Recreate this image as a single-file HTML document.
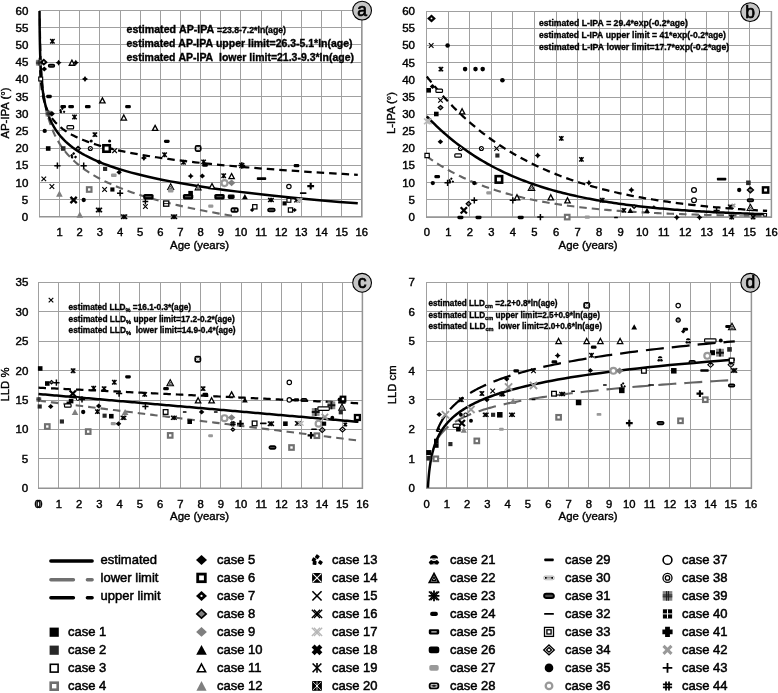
<!DOCTYPE html>
<html lang="en"><head><meta charset="utf-8"><title>Figure</title>
<style>html,body{margin:0;padding:0;background:#fff}svg{display:block}</style>
</head><body>
<svg width="778" height="693" viewBox="0 0 778 693" font-family='"Liberation Sans", sans-serif'>
<rect width="778" height="693" fill="#fff"/>
<path d="M39.5 10V217M59.5 10V217M79.5 10V217M99.5 10V217M120.5 10V217M140.5 10V217M160.5 10V217M180.5 10V217M200.5 10V217M220.5 10V217M240.5 10V217M261.5 10V217M281.5 10V217M301.5 10V217M321.5 10V217M341.5 10V217M361.5 10V217M39 216.5H362M39 199.5H362M39 182.5H362M39 165.5H362M39 148.5H362M39 130.5H362M39 113.5H362M39 96.5H362M39 79.5H362M39 62.5H362M39 44.5H362M39 27.5H362M39 10.5H362" stroke="#a0a0a0" stroke-width="1" fill="none"/>
<path d="M39 216.85H362.65M361.9 10V217.6" stroke="#949494" stroke-width="1.5" fill="none"/>
<path d="M426.5 11V218M448.5 11V218M469.5 11V218M491.5 11V218M512.5 11V218M534.5 11V218M556.5 11V218M577.5 11V218M599.5 11V218M620.5 11V218M642.5 11V218M663.5 11V218M685.5 11V218M706.5 11V218M728.5 11V218M749.5 11V218M771.5 11V218M426 217.5H772M426 199.5H772M426 182.5H772M426 165.5H772M426 148.5H772M426 131.5H772M426 114.5H772M426 97.5H772M426 79.5H772M426 62.5H772M426 45.5H772M426 28.5H772M426 11.5H772" stroke="#a0a0a0" stroke-width="1" fill="none"/>
<path d="M426 217.1H772.15M771.4 11V217.85" stroke="#949494" stroke-width="1.5" fill="none"/>
<path d="M38.5 282V489M58.5 282V489M79.5 282V489M99.5 282V489M119.5 282V489M139.5 282V489M160.5 282V489M180.5 282V489M200.5 282V489M220.5 282V489M241.5 282V489M261.5 282V489M281.5 282V489M301.5 282V489M322.5 282V489M342.5 282V489M362.5 282V489M38 488.5H363M38 458.5H363M38 429.5H363M38 400.5H363M38 370.5H363M38 341.5H363M38 311.5H363M38 282.5H363" stroke="#a0a0a0" stroke-width="1" fill="none"/>
<path d="M38 488.2H363.15M362.4 282V488.95" stroke="#949494" stroke-width="1.5" fill="none"/>
<path d="M426.5 282V489M446.5 282V489M467.5 282V489M487.5 282V489M507.5 282V489M527.5 282V489M548.5 282V489M568.5 282V489M588.5 282V489M609.5 282V489M629.5 282V489M649.5 282V489M669.5 282V489M690.5 282V489M710.5 282V489M730.5 282V489M751.5 282V489M426 488.5H752M426 458.5H752M426 429.5H752M426 399.5H752M426 370.5H752M426 341.5H752M426 311.5H752M426 282.5H752" stroke="#a0a0a0" stroke-width="1" fill="none"/>
<path d="M426 488H752.15M751.4 282V488.75" stroke="#949494" stroke-width="1.5" fill="none"/>
<clipPath id="ca"><rect x="38" y="10.9" width="330" height="206"/></clipPath><g clip-path="url(#ca)">
<path d="M39.8 18.47L39.82 19.89L39.84 21.3L39.86 22.71L39.88 24.13L39.9 25.54L39.93 26.96L39.95 28.37L39.97 29.78L40 31.2L40.03 32.61L40.06 34.03L40.09 35.44L40.12 36.85L40.15 38.27L40.18 39.68L40.22 41.1L40.25 42.51L40.29 43.92L40.33 45.34L40.38 46.75L40.42 48.17L40.47 49.58L40.51 50.99L40.56 52.41L40.62 53.82L40.67 55.24L40.73 56.65L40.79 58.06L40.85 59.48L40.92 60.89L40.99 62.31L41.06 63.72L41.13 65.13L41.21 66.55L41.29 67.96L41.38 69.38L41.47 70.79L41.56 72.2L41.66 73.62L41.76 75.03L41.87 76.45L41.98 77.86L42.1 79.27L42.22 80.69L42.35 82.1L42.48 83.52L42.62 84.93L42.76 86.34L42.92 87.76L43.08 89.17L43.24 90.59L43.42 92L43.6 93.41L43.79 94.83L43.98 96.24L44.19 97.66L44.41 99.07L44.63 100.48L44.87 101.9L45.12 103.31L45.38 104.73L45.65 106.14L45.93 107.55L46.22 108.97L46.53 110.38L46.86 111.8L47.19 113.21L47.55 114.62L47.91 116.04L48.3 117.45L48.7 118.87L49.12 120.28L49.56 121.69L50.02 123.11L50.5 124.52L51 125.94L51.53 127.35L52.07 128.76L52.65 130.18L53.24 131.59L53.87 133.01L54.52 134.42L55.21 135.83L55.92 137.25L56.67 138.66L57.45 140.08L58.27 141.49L59.12 142.9L60.01 144.32L60.94 145.73L61.92 147.15L62.93 148.56L64 149.97L65.11 151.39L66.27 152.8L67.49 154.22L68.76 155.63L70.08 157.04L71.47 158.46L72.92 159.87L74.43 161.29L76.02 162.7L77.67 164.11L79.4 165.53L81.21 166.94L83.1 168.36L85.08 169.77L87.14 171.18L89.3 172.6L91.55 174.01L93.91 175.43L96.38 176.84L98.95 178.25L101.64 179.67L104.46 181.08L107.4 182.5L110.47 183.91L113.68 185.32L117.04 186.74L120.55 188.15L124.22 189.57L128.05 190.98L132.06 192.39L136.25 193.81L140.62 195.22L145.2 196.64L149.98 198.05L154.98 199.46L160.2 200.88L165.66 202.29L171.37 203.71L177.34 205.12L183.57 206.53L190.09 207.95L196.9 209.36L204.02 210.78L211.46 212.19L219.24 213.6L227.37 215.02L235.86 216.43" stroke="#646464" stroke-width="2.1" fill="none" stroke-dasharray="7.5 5" stroke-linecap="butt" stroke-linejoin="round"/>
<path d="M39.8 57.78L39.82 58.62L39.84 59.46L39.86 60.29L39.89 61.13L39.91 61.96L39.94 62.8L39.96 63.64L39.99 64.47L40.02 65.31L40.05 66.14L40.08 66.98L40.11 67.81L40.15 68.65L40.19 69.49L40.22 70.32L40.26 71.16L40.31 71.99L40.35 72.83L40.4 73.67L40.45 74.5L40.5 75.34L40.55 76.17L40.61 77.01L40.66 77.85L40.73 78.68L40.79 79.52L40.86 80.35L40.93 81.19L41.01 82.03L41.08 82.86L41.17 83.7L41.25 84.53L41.34 85.37L41.44 86.2L41.54 87.04L41.64 87.88L41.75 88.71L41.86 89.55L41.99 90.38L42.11 91.22L42.24 92.06L42.38 92.89L42.53 93.73L42.68 94.56L42.84 95.4L43.01 96.24L43.19 97.07L43.37 97.91L43.56 98.74L43.77 99.58L43.98 100.41L44.2 101.25L44.44 102.09L44.68 102.92L44.94 103.76L45.21 104.59L45.5 105.43L45.79 106.27L46.11 107.1L46.43 107.94L46.78 108.77L47.14 109.61L47.51 110.45L47.91 111.28L48.33 112.12L48.76 112.95L49.22 113.79L49.7 114.63L50.2 115.46L50.73 116.3L51.28 117.13L51.86 117.97L52.47 118.8L53.11 119.64L53.77 120.48L54.48 121.31L55.21 122.15L55.98 122.98L56.79 123.82L57.64 124.66L58.53 125.49L59.47 126.33L60.45 127.16L61.47 128L62.55 128.84L63.68 129.67L64.87 130.51L66.11 131.34L67.41 132.18L68.78 133.01L70.22 133.85L71.72 134.69L73.3 135.52L74.95 136.36L76.69 137.19L78.51 138.03L80.42 138.87L82.42 139.7L84.52 140.54L86.72 141.37L89.03 142.21L91.45 143.05L93.99 143.88L96.66 144.72L99.45 145.55L102.38 146.39L105.46 147.23L108.68 148.06L112.06 148.9L115.61 149.73L119.33 150.57L123.23 151.4L127.32 152.24L131.61 153.08L136.12 153.91L140.84 154.75L145.79 155.58L150.98 156.42L156.43 157.26L162.14 158.09L168.13 158.93L174.41 159.76L181 160.6L187.92 161.44L195.17 162.27L202.77 163.11L210.74 163.94L219.11 164.78L227.88 165.61L237.08 166.45L246.73 167.29L256.85 168.12L267.46 168.96L278.59 169.79L290.27 170.63L302.51 171.47L315.36 172.3L328.83 173.14L342.95 173.97L357.77 174.81" stroke="#000" stroke-width="2.25" fill="none" stroke-dasharray="7.5 5" stroke-linecap="butt" stroke-linejoin="round"/>
<path d="M39.48 -1.72L39.49 -0.26L39.49 1.2L39.5 2.67L39.5 4.13L39.51 5.6L39.51 7.06L39.52 8.53L39.53 9.99L39.54 11.46L39.55 12.92L39.55 14.39L39.56 15.85L39.57 17.32L39.58 18.78L39.6 20.25L39.61 21.71L39.62 23.18L39.63 24.64L39.65 26.11L39.66 27.57L39.68 29.04L39.7 30.5L39.71 31.96L39.73 33.43L39.75 34.89L39.78 36.36L39.8 37.82L39.82 39.29L39.85 40.75L39.88 42.22L39.9 43.68L39.94 45.15L39.97 46.61L40 48.08L40.04 49.54L40.08 51.01L40.12 52.47L40.16 53.94L40.21 55.4L40.26 56.87L40.31 58.33L40.37 59.8L40.43 61.26L40.49 62.72L40.55 64.19L40.62 65.65L40.7 67.12L40.78 68.58L40.86 70.05L40.95 71.51L41.05 72.98L41.15 74.44L41.25 75.91L41.37 77.37L41.49 78.84L41.61 80.3L41.75 81.77L41.89 83.23L42.04 84.7L42.2 86.16L42.37 87.63L42.56 89.09L42.75 90.56L42.95 92.02L43.17 93.48L43.4 94.95L43.64 96.41L43.9 97.88L44.17 99.34L44.47 100.81L44.77 102.27L45.1 103.74L45.45 105.2L45.82 106.67L46.21 108.13L46.62 109.6L47.06 111.06L47.53 112.53L48.03 113.99L48.55 115.46L49.11 116.92L49.7 118.39L50.33 119.85L51 121.31L51.7 122.78L52.45 124.24L53.25 125.71L54.09 127.17L54.99 128.64L55.94 130.1L56.94 131.57L58.01 133.03L59.15 134.5L60.35 135.96L61.63 137.43L62.98 138.89L64.42 140.36L65.94 141.82L67.56 143.29L69.28 144.75L71.1 146.22L73.03 147.68L75.08 149.15L77.25 150.61L79.56 152.07L82.01 153.54L84.6 155L87.36 156.47L90.28 157.93L93.38 159.4L96.67 160.86L100.16 162.33L103.86 163.79L107.79 165.26L111.96 166.72L116.38 168.19L121.07 169.65L126.05 171.12L131.33 172.58L136.93 174.05L142.87 175.51L149.18 176.98L155.87 178.44L162.96 179.91L170.49 181.37L178.48 182.83L186.96 184.3L195.95 185.76L205.49 187.23L215.61 188.69L226.35 190.16L237.74 191.62L249.83 193.09L262.65 194.55L276.25 196.02L290.69 197.48L306 198.95L322.25 200.41L339.48 201.88L357.77 203.34" stroke="#000" stroke-width="2.5" fill="none" stroke-linecap="butt" stroke-linejoin="round"/>
</g>
<path d="M426.8 156.42L429.23 158.14L431.66 159.81L434.09 161.44L436.52 163.02L438.95 164.55L441.38 166.04L443.81 167.49L446.25 168.9L448.68 170.26L451.11 171.59L453.54 172.88L455.97 174.14L458.4 175.36L460.83 176.54L463.26 177.69L465.69 178.81L468.12 179.9L470.55 180.95L472.98 181.98L475.41 182.97L477.84 183.94L480.27 184.88L482.71 185.8L485.14 186.68L487.57 187.55L490 188.39L492.43 189.2L494.86 189.99L497.29 190.76L499.72 191.51L502.15 192.23L504.58 192.94L507.01 193.62L509.44 194.29L511.87 194.94L514.3 195.57L516.73 196.18L519.17 196.77L521.6 197.35L524.03 197.91L526.46 198.45L528.89 198.98L531.32 199.5L533.75 199.99L536.18 200.48L538.61 200.95L541.04 201.41L543.47 201.85L545.9 202.29L548.33 202.71L550.76 203.12L553.19 203.51L555.63 203.9L558.06 204.27L560.49 204.64L562.92 204.99L565.35 205.33L567.78 205.67L570.21 205.99L572.64 206.31L575.07 206.61L577.5 206.91L579.93 207.2L582.36 207.48L584.79 207.75L587.22 208.02L589.65 208.28L592.08 208.53L594.52 208.77L596.95 209.01L599.38 209.24L601.81 209.46L604.24 209.68L606.67 209.89L609.1 210.09L611.53 210.29L613.96 210.48L616.39 210.67L618.82 210.85L621.25 211.03L623.68 211.2L626.11 211.37L628.54 211.53L630.98 211.69L633.41 211.84L635.84 211.99L638.27 212.14L640.7 212.28L643.13 212.42L645.56 212.55L647.99 212.68L650.42 212.8L652.85 212.92L655.28 213.04L657.71 213.16L660.14 213.27L662.57 213.38L665 213.48L667.44 213.59L669.87 213.69L672.3 213.78L674.73 213.88L677.16 213.97L679.59 214.06L682.02 214.14L684.45 214.23L686.88 214.31L689.31 214.39L691.74 214.47L694.17 214.54L696.6 214.61L699.03 214.68L701.46 214.75L703.9 214.82L706.33 214.88L708.76 214.95L711.19 215.01L713.62 215.07L716.05 215.12L718.48 215.18L720.91 215.23L723.34 215.29L725.77 215.34L728.2 215.39L730.63 215.44L733.06 215.48L735.49 215.53L737.92 215.58L740.36 215.62L742.79 215.66L745.22 215.7L747.65 215.74L750.08 215.78L752.51 215.82L754.94 215.85L757.37 215.89L759.8 215.92L762.23 215.96L764.66 215.99L767.09 216.02" stroke="#646464" stroke-width="2.1" fill="none" stroke-dasharray="7.5 5" stroke-linecap="butt" stroke-linejoin="round"/>
<path d="M426.8 76.54L429.23 79.64L431.66 82.68L434.09 85.65L436.52 88.56L438.95 91.4L441.38 94.18L443.81 96.89L446.25 99.55L448.68 102.15L451.11 104.69L453.54 107.17L455.97 109.6L458.4 111.97L460.83 114.3L463.26 116.57L465.69 118.79L468.12 120.96L470.55 123.09L472.98 125.17L475.41 127.2L477.84 129.18L480.27 131.13L482.71 133.03L485.14 134.88L487.57 136.7L490 138.48L492.43 140.21L494.86 141.91L497.29 143.58L499.72 145.2L502.15 146.79L504.58 148.34L507.01 149.86L509.44 151.35L511.87 152.8L514.3 154.22L516.73 155.61L519.17 156.97L521.6 158.3L524.03 159.6L526.46 160.87L528.89 162.11L531.32 163.33L533.75 164.51L536.18 165.68L538.61 166.81L541.04 167.92L543.47 169.01L545.9 170.07L548.33 171.11L550.76 172.13L553.19 173.12L555.63 174.09L558.06 175.05L560.49 175.97L562.92 176.88L565.35 177.77L567.78 178.64L570.21 179.49L572.64 180.32L575.07 181.13L577.5 181.93L579.93 182.71L582.36 183.47L584.79 184.21L587.22 184.94L589.65 185.65L592.08 186.34L594.52 187.02L596.95 187.69L599.38 188.34L601.81 188.97L604.24 189.59L606.67 190.2L609.1 190.8L611.53 191.38L613.96 191.95L616.39 192.5L618.82 193.05L621.25 193.58L623.68 194.1L626.11 194.6L628.54 195.1L630.98 195.59L633.41 196.06L635.84 196.53L638.27 196.98L640.7 197.43L643.13 197.86L645.56 198.29L647.99 198.7L650.42 199.11L652.85 199.51L655.28 199.9L657.71 200.28L660.14 200.65L662.57 201.01L665 201.37L667.44 201.71L669.87 202.05L672.3 202.39L674.73 202.71L677.16 203.03L679.59 203.34L682.02 203.65L684.45 203.94L686.88 204.23L689.31 204.52L691.74 204.8L694.17 205.07L696.6 205.33L699.03 205.59L701.46 205.85L703.9 206.1L706.33 206.34L708.76 206.58L711.19 206.81L713.62 207.04L716.05 207.26L718.48 207.48L720.91 207.69L723.34 207.9L725.77 208.1L728.2 208.3L730.63 208.49L733.06 208.68L735.49 208.87L737.92 209.05L740.36 209.23L742.79 209.4L745.22 209.57L747.65 209.74L750.08 209.9L752.51 210.06L754.94 210.22L757.37 210.37L759.8 210.52L762.23 210.66L764.66 210.81L767.09 210.95" stroke="#000" stroke-width="2.25" fill="none" stroke-dasharray="7.5 5" stroke-linecap="butt" stroke-linejoin="round"/>
<path d="M426.8 116.31L429.23 118.85L431.66 121.32L434.09 123.73L436.52 126.08L438.95 128.38L441.38 130.61L443.81 132.79L446.25 134.91L448.68 136.98L451.11 139L453.54 140.97L455.97 142.88L458.4 144.75L460.83 146.57L463.26 148.35L465.69 150.08L468.12 151.77L470.55 153.41L472.98 155.02L475.41 156.58L477.84 158.11L480.27 159.59L482.71 161.04L485.14 162.45L487.57 163.83L490 165.17L492.43 166.48L494.86 167.75L497.29 168.99L499.72 170.21L502.15 171.39L504.58 172.54L507.01 173.66L509.44 174.75L511.87 175.82L514.3 176.86L516.73 177.87L519.17 178.86L521.6 179.82L524.03 180.76L526.46 181.68L528.89 182.57L531.32 183.44L533.75 184.29L536.18 185.11L538.61 185.92L541.04 186.7L543.47 187.47L545.9 188.22L548.33 188.94L550.76 189.65L553.19 190.34L555.63 191.02L558.06 191.67L560.49 192.31L562.92 192.94L565.35 193.55L567.78 194.14L570.21 194.72L572.64 195.28L575.07 195.83L577.5 196.37L579.93 196.89L582.36 197.4L584.79 197.89L587.22 198.38L589.65 198.85L592.08 199.31L594.52 199.76L596.95 200.19L599.38 200.62L601.81 201.03L604.24 201.44L606.67 201.83L609.1 202.22L611.53 202.59L613.96 202.96L616.39 203.31L618.82 203.66L621.25 204L623.68 204.33L626.11 204.65L628.54 204.96L630.98 205.27L633.41 205.57L635.84 205.86L638.27 206.14L640.7 206.42L643.13 206.69L645.56 206.95L647.99 207.2L650.42 207.45L652.85 207.7L655.28 207.93L657.71 208.16L660.14 208.39L662.57 208.61L665 208.82L667.44 209.03L669.87 209.23L672.3 209.43L674.73 209.63L677.16 209.81L679.59 210L682.02 210.18L684.45 210.35L686.88 210.52L689.31 210.69L691.74 210.85L694.17 211.01L696.6 211.16L699.03 211.31L701.46 211.45L703.9 211.6L706.33 211.73L708.76 211.87L711.19 212L713.62 212.13L716.05 212.26L718.48 212.38L720.91 212.5L723.34 212.61L725.77 212.73L728.2 212.84L730.63 212.94L733.06 213.05L735.49 213.15L737.92 213.25L740.36 213.35L742.79 213.44L745.22 213.53L747.65 213.62L750.08 213.71L752.51 213.8L754.94 213.88L757.37 213.96L759.8 214.04L762.23 214.12L764.66 214.19L767.09 214.26" stroke="#000" stroke-width="2.5" fill="none" stroke-linecap="butt" stroke-linejoin="round"/>
<path d="M38.5 400.63L40.79 400.92L43.07 401.2L45.36 401.49L47.64 401.77L49.93 402.06L52.21 402.34L54.5 402.63L56.78 402.91L59.07 403.2L61.35 403.48L63.64 403.77L65.92 404.05L68.21 404.34L70.5 404.62L72.78 404.91L75.07 405.19L77.35 405.48L79.64 405.76L81.92 406.05L84.21 406.33L86.49 406.62L88.78 406.91L91.06 407.19L93.35 407.48L95.63 407.76L97.92 408.05L100.2 408.33L102.49 408.62L104.78 408.9L107.06 409.19L109.35 409.47L111.63 409.76L113.92 410.04L116.2 410.33L118.49 410.61L120.77 410.9L123.06 411.18L125.34 411.47L127.63 411.75L129.91 412.04L132.2 412.32L134.49 412.61L136.77 412.89L139.06 413.18L141.34 413.46L143.63 413.75L145.91 414.04L148.2 414.32L150.48 414.61L152.77 414.89L155.05 415.18L157.34 415.46L159.62 415.75L161.91 416.03L164.19 416.32L166.48 416.6L168.77 416.89L171.05 417.17L173.34 417.46L175.62 417.74L177.91 418.03L180.19 418.31L182.48 418.6L184.76 418.88L187.05 419.17L189.33 419.45L191.62 419.74L193.9 420.02L196.19 420.31L198.47 420.6L200.76 420.88L203.05 421.17L205.33 421.45L207.62 421.74L209.9 422.02L212.19 422.31L214.47 422.59L216.76 422.88L219.04 423.16L221.33 423.45L223.61 423.73L225.9 424.02L228.18 424.3L230.47 424.59L232.76 424.87L235.04 425.16L237.33 425.44L239.61 425.73L241.9 426.01L244.18 426.3L246.47 426.58L248.75 426.87L251.04 427.16L253.32 427.44L255.61 427.73L257.89 428.01L260.18 428.3L262.47 428.58L264.75 428.87L267.04 429.15L269.32 429.44L271.61 429.72L273.89 430.01L276.18 430.29L278.46 430.58L280.75 430.86L283.03 431.15L285.32 431.43L287.6 431.72L289.89 432L292.17 432.29L294.46 432.57L296.75 432.86L299.03 433.14L301.32 433.43L303.6 433.71L305.89 434L308.17 434.29L310.46 434.57L312.74 434.86L315.03 435.14L317.31 435.43L319.6 435.71L321.88 436L324.17 436.28L326.46 436.57L328.74 436.85L331.03 437.14L333.31 437.42L335.6 437.71L337.88 437.99L340.17 438.28L342.45 438.56L344.74 438.85L347.02 439.13L349.31 439.42L351.59 439.7L353.88 439.99L356.16 440.27L358.45 440.56" stroke="#646464" stroke-width="2.1" fill="none" stroke-dasharray="7.5 5" stroke-linecap="butt" stroke-linejoin="round"/>
<path d="M38.5 387.7L40.79 387.81L43.07 387.92L45.36 388.04L47.64 388.15L49.93 388.26L52.21 388.37L54.5 388.48L56.78 388.59L59.07 388.7L61.35 388.82L63.64 388.93L65.92 389.04L68.21 389.15L70.5 389.26L72.78 389.37L75.07 389.48L77.35 389.6L79.64 389.71L81.92 389.82L84.21 389.93L86.49 390.04L88.78 390.15L91.06 390.26L93.35 390.38L95.63 390.49L97.92 390.6L100.2 390.71L102.49 390.82L104.78 390.93L107.06 391.04L109.35 391.16L111.63 391.27L113.92 391.38L116.2 391.49L118.49 391.6L120.77 391.71L123.06 391.82L125.34 391.94L127.63 392.05L129.91 392.16L132.2 392.27L134.49 392.38L136.77 392.49L139.06 392.6L141.34 392.72L143.63 392.83L145.91 392.94L148.2 393.05L150.48 393.16L152.77 393.27L155.05 393.38L157.34 393.5L159.62 393.61L161.91 393.72L164.19 393.83L166.48 393.94L168.77 394.05L171.05 394.16L173.34 394.28L175.62 394.39L177.91 394.5L180.19 394.61L182.48 394.72L184.76 394.83L187.05 394.94L189.33 395.06L191.62 395.17L193.9 395.28L196.19 395.39L198.47 395.5L200.76 395.61L203.05 395.72L205.33 395.84L207.62 395.95L209.9 396.06L212.19 396.17L214.47 396.28L216.76 396.39L219.04 396.5L221.33 396.62L223.61 396.73L225.9 396.84L228.18 396.95L230.47 397.06L232.76 397.17L235.04 397.28L237.33 397.4L239.61 397.51L241.9 397.62L244.18 397.73L246.47 397.84L248.75 397.95L251.04 398.06L253.32 398.18L255.61 398.29L257.89 398.4L260.18 398.51L262.47 398.62L264.75 398.73L267.04 398.84L269.32 398.96L271.61 399.07L273.89 399.18L276.18 399.29L278.46 399.4L280.75 399.51L283.03 399.62L285.32 399.74L287.6 399.85L289.89 399.96L292.17 400.07L294.46 400.18L296.75 400.29L299.03 400.4L301.32 400.52L303.6 400.63L305.89 400.74L308.17 400.85L310.46 400.96L312.74 401.07L315.03 401.18L317.31 401.3L319.6 401.41L321.88 401.52L324.17 401.63L326.46 401.74L328.74 401.85L331.03 401.96L333.31 402.08L335.6 402.19L337.88 402.3L340.17 402.41L342.45 402.52L344.74 402.63L347.02 402.74L349.31 402.86L351.59 402.97L353.88 403.08L356.16 403.19L358.45 403.3" stroke="#000" stroke-width="2.25" fill="none" stroke-dasharray="7.5 5" stroke-linecap="butt" stroke-linejoin="round"/>
<path d="M38.5 393.99L40.79 394.19L43.07 394.39L45.36 394.59L47.64 394.79L49.93 394.98L52.21 395.18L54.5 395.38L56.78 395.58L59.07 395.78L61.35 395.98L63.64 396.18L65.92 396.38L68.21 396.58L70.5 396.78L72.78 396.97L75.07 397.17L77.35 397.37L79.64 397.57L81.92 397.77L84.21 397.97L86.49 398.17L88.78 398.37L91.06 398.57L93.35 398.76L95.63 398.96L97.92 399.16L100.2 399.36L102.49 399.56L104.78 399.76L107.06 399.96L109.35 400.16L111.63 400.36L113.92 400.56L116.2 400.75L118.49 400.95L120.77 401.15L123.06 401.35L125.34 401.55L127.63 401.75L129.91 401.95L132.2 402.15L134.49 402.35L136.77 402.55L139.06 402.74L141.34 402.94L143.63 403.14L145.91 403.34L148.2 403.54L150.48 403.74L152.77 403.94L155.05 404.14L157.34 404.34L159.62 404.54L161.91 404.73L164.19 404.93L166.48 405.13L168.77 405.33L171.05 405.53L173.34 405.73L175.62 405.93L177.91 406.13L180.19 406.33L182.48 406.53L184.76 406.72L187.05 406.92L189.33 407.12L191.62 407.32L193.9 407.52L196.19 407.72L198.47 407.92L200.76 408.12L203.05 408.32L205.33 408.52L207.62 408.71L209.9 408.91L212.19 409.11L214.47 409.31L216.76 409.51L219.04 409.71L221.33 409.91L223.61 410.11L225.9 410.31L228.18 410.51L230.47 410.7L232.76 410.9L235.04 411.1L237.33 411.3L239.61 411.5L241.9 411.7L244.18 411.9L246.47 412.1L248.75 412.3L251.04 412.49L253.32 412.69L255.61 412.89L257.89 413.09L260.18 413.29L262.47 413.49L264.75 413.69L267.04 413.89L269.32 414.09L271.61 414.29L273.89 414.48L276.18 414.68L278.46 414.88L280.75 415.08L283.03 415.28L285.32 415.48L287.6 415.68L289.89 415.88L292.17 416.08L294.46 416.28L296.75 416.47L299.03 416.67L301.32 416.87L303.6 417.07L305.89 417.27L308.17 417.47L310.46 417.67L312.74 417.87L315.03 418.07L317.31 418.27L319.6 418.46L321.88 418.66L324.17 418.86L326.46 419.06L328.74 419.26L331.03 419.46L333.31 419.66L335.6 419.86L337.88 420.06L340.17 420.26L342.45 420.45L344.74 420.65L347.02 420.85L349.31 421.05L351.59 421.25L353.88 421.45L356.16 421.65L358.45 421.85" stroke="#000" stroke-width="2.5" fill="none" stroke-linecap="butt" stroke-linejoin="round"/>
<clipPath id="cd"><rect x="420" y="282" width="340" height="205.7"/></clipPath><g clip-path="url(#cd)">
<path d="M436.74 440.1L436.99 439.67L437.24 439.24L437.51 438.81L437.78 438.38L438.05 437.95L438.33 437.52L438.62 437.1L438.92 436.67L439.23 436.24L439.54 435.81L439.86 435.38L440.18 434.95L440.52 434.52L440.86 434.09L441.22 433.66L441.58 433.23L441.95 432.8L442.32 432.37L442.71 431.94L443.11 431.51L443.52 431.08L443.94 430.65L444.36 430.22L444.8 429.79L445.25 429.36L445.71 428.93L446.18 428.5L446.67 428.07L447.16 427.64L447.67 427.21L448.19 426.78L448.72 426.35L449.27 425.92L449.83 425.49L450.4 425.06L450.99 424.63L451.59 424.2L452.21 423.77L452.84 423.34L453.49 422.91L454.16 422.48L454.84 422.05L455.53 421.62L456.25 421.19L456.98 420.76L457.73 420.33L458.5 419.9L459.28 419.47L460.09 419.04L460.92 418.61L461.77 418.18L462.63 417.75L463.52 417.32L464.44 416.89L465.37 416.46L466.33 416.03L467.31 415.61L468.31 415.18L469.34 414.75L470.4 414.32L471.48 413.89L472.59 413.46L473.72 413.03L474.89 412.6L476.08 412.17L477.3 411.74L478.55 411.31L479.83 410.88L481.15 410.45L482.49 410.02L483.87 409.59L485.29 409.16L486.74 408.73L488.22 408.3L489.74 407.87L491.3 407.44L492.9 407.01L494.54 406.58L496.21 406.15L497.93 405.72L499.69 405.29L501.5 404.86L503.35 404.43L505.24 404L507.18 403.57L509.17 403.14L511.21 402.71L513.3 402.28L515.44 401.85L517.63 401.42L519.88 400.99L522.19 400.56L524.55 400.13L526.96 399.7L529.44 399.27L531.98 398.84L534.58 398.41L537.25 397.98L539.98 397.55L542.78 397.12L545.65 396.69L548.59 396.26L551.6 395.83L554.68 395.4L557.85 394.97L561.09 394.54L564.41 394.12L567.81 393.69L571.3 393.26L574.87 392.83L578.53 392.4L582.28 391.97L586.12 391.54L590.06 391.11L594.1 390.68L598.23 390.25L602.47 389.82L606.81 389.39L611.26 388.96L615.82 388.53L620.49 388.1L625.28 387.67L630.18 387.24L635.21 386.81L640.36 386.38L645.64 385.95L651.04 385.52L656.59 385.09L662.26 384.66L668.08 384.23L674.04 383.8L680.15 383.37L686.41 382.94L692.83 382.51L699.4 382.08L706.14 381.65L713.04 381.22L720.11 380.79L727.35 380.36L734.78 379.93" stroke="#646464" stroke-width="2.1" fill="none" stroke-dasharray="18 8" stroke-linecap="butt" stroke-linejoin="round"/>
<path d="M436.74 431.53L436.99 430.88L437.24 430.24L437.51 429.59L437.78 428.95L438.05 428.3L438.33 427.66L438.62 427.01L438.92 426.37L439.23 425.72L439.54 425.08L439.86 424.43L440.18 423.79L440.52 423.14L440.86 422.5L441.22 421.86L441.58 421.21L441.95 420.57L442.32 419.92L442.71 419.28L443.11 418.63L443.52 417.99L443.94 417.34L444.36 416.7L444.8 416.05L445.25 415.41L445.71 414.76L446.18 414.12L446.67 413.47L447.16 412.83L447.67 412.18L448.19 411.54L448.72 410.9L449.27 410.25L449.83 409.61L450.4 408.96L450.99 408.32L451.59 407.67L452.21 407.03L452.84 406.38L453.49 405.74L454.16 405.09L454.84 404.45L455.53 403.8L456.25 403.16L456.98 402.51L457.73 401.87L458.5 401.22L459.28 400.58L460.09 399.94L460.92 399.29L461.77 398.65L462.63 398L463.52 397.36L464.44 396.71L465.37 396.07L466.33 395.42L467.31 394.78L468.31 394.13L469.34 393.49L470.4 392.84L471.48 392.2L472.59 391.55L473.72 390.91L474.89 390.26L476.08 389.62L477.3 388.98L478.55 388.33L479.83 387.69L481.15 387.04L482.49 386.4L483.87 385.75L485.29 385.11L486.74 384.46L488.22 383.82L489.74 383.17L491.3 382.53L492.9 381.88L494.54 381.24L496.21 380.59L497.93 379.95L499.69 379.3L501.5 378.66L503.35 378.02L505.24 377.37L507.18 376.73L509.17 376.08L511.21 375.44L513.3 374.79L515.44 374.15L517.63 373.5L519.88 372.86L522.19 372.21L524.55 371.57L526.96 370.92L529.44 370.28L531.98 369.63L534.58 368.99L537.25 368.34L539.98 367.7L542.78 367.06L545.65 366.41L548.59 365.77L551.6 365.12L554.68 364.48L557.85 363.83L561.09 363.19L564.41 362.54L567.81 361.9L571.3 361.25L574.87 360.61L578.53 359.96L582.28 359.32L586.12 358.67L590.06 358.03L594.1 357.38L598.23 356.74L602.47 356.1L606.81 355.45L611.26 354.81L615.82 354.16L620.49 353.52L625.28 352.87L630.18 352.23L635.21 351.58L640.36 350.94L645.64 350.29L651.04 349.65L656.59 349L662.26 348.36L668.08 347.71L674.04 347.07L680.15 346.42L686.41 345.78L692.83 345.14L699.4 344.49L706.14 343.85L713.04 343.2L720.11 342.56L727.35 341.91L734.78 341.27" stroke="#000" stroke-width="2.25" fill="none" stroke-dasharray="18 8" stroke-linecap="butt" stroke-linejoin="round"/>
<path d="M427.01 515.4L427.03 514.29L427.05 513.18L427.07 512.06L427.09 510.95L427.11 509.84L427.14 508.72L427.16 507.61L427.19 506.5L427.22 505.38L427.25 504.27L427.28 503.16L427.32 502.04L427.35 500.93L427.39 499.82L427.43 498.7L427.47 497.59L427.51 496.48L427.55 495.36L427.6 494.25L427.65 493.14L427.7 492.02L427.75 490.91L427.81 489.8L427.86 488.68L427.93 487.57L427.99 486.46L428.06 485.34L428.13 484.23L428.2 483.12L428.28 482L428.36 480.89L428.45 479.78L428.54 478.66L428.63 477.55L428.73 476.44L428.83 475.32L428.94 474.21L429.05 473.1L429.17 471.98L429.3 470.87L429.43 469.76L429.57 468.65L429.71 467.53L429.86 466.42L430.02 465.31L430.19 464.19L430.36 463.08L430.54 461.97L430.73 460.85L430.93 459.74L431.14 458.63L431.36 457.51L431.6 456.4L431.84 455.29L432.09 454.17L432.36 453.06L432.64 451.95L432.93 450.83L433.24 449.72L433.56 448.61L433.9 447.49L434.25 446.38L434.62 445.27L435.01 444.15L435.42 443.04L435.85 441.93L436.3 440.81L436.77 439.7L437.26 438.59L437.78 437.47L438.32 436.36L438.89 435.25L439.49 434.13L440.11 433.02L440.77 431.91L441.45 430.79L442.18 429.68L442.93 428.57L443.72 427.45L444.55 426.34L445.43 425.23L446.34 424.11L447.3 423L448.3 421.89L449.35 420.77L450.46 419.66L451.62 418.55L452.83 417.43L454.1 416.32L455.44 415.21L456.84 414.09L458.3 412.98L459.84 411.87L461.45 410.75L463.15 409.64L464.92 408.53L466.78 407.41L468.73 406.3L470.77 405.19L472.91 404.07L475.16 402.96L477.52 401.85L479.99 400.73L482.58 399.62L485.29 398.51L488.14 397.39L491.13 396.28L494.26 395.17L497.54 394.05L500.99 392.94L504.59 391.83L508.38 390.71L512.35 389.6L516.51 388.49L520.87 387.37L525.44 386.26L530.24 385.15L535.27 384.03L540.54 382.92L546.07 381.81L551.87 380.69L557.95 379.58L564.32 378.47L571 377.35L578.01 376.24L585.35 375.13L593.06 374.01L601.13 372.9L609.6 371.79L618.48 370.67L627.79 369.56L637.55 368.45L647.79 367.33L658.52 366.22L669.77 365.11L681.57 363.99L693.95 362.88L706.92 361.77L720.52 360.65L734.78 359.54" stroke="#000" stroke-width="2.5" fill="none" stroke-linecap="butt" stroke-linejoin="round"/>
</g>
<g transform="translate(52.4,41.3) scale(0.5)"><path d="M-4.4 -4.4L4.4 4.4M-4.4 4.4L4.4 -4.4" stroke="#000" stroke-width="2.85" stroke-linecap="butt" fill="none"/><path d="M0 -4.9V4.9" stroke="#000" stroke-width="2.85" stroke-linecap="butt" fill="none"/></g>
<g transform="translate(38.8,62.7) scale(0.6)"><rect x="-4.8" y="-4.8" width="9.6" height="9.6" fill="#858585"/><path d="M-0.9 -4.8V4.8M0.9 -4.8V4.8M-4.8 -0.9H4.8M-4.8 0.9H4.8" stroke="#1a1a1a" stroke-width="1.32" stroke-linecap="butt" fill="none"/></g>
<g transform="translate(43.8,62.2) scale(0.72)"><path d="M0 -5.0L5.5 0L0 5.0L-5.5 0Z" fill="#000"/><circle cx="0" cy="0" r="1.15" fill="#fff"/></g>
<g transform="translate(44.3,68.9) scale(0.5)"><path d="M0 -5.0L5.5 0L0 5.0L-5.5 0Z" fill="#000"/></g>
<g transform="translate(51.5,65.8) scale(0.6)"><rect x="-4.9" y="-2.1" width="9.8" height="4.2" rx="2.1" fill="#4a4a4a" stroke="#000" stroke-width="2.52"/></g>
<g transform="translate(58.6,62.7) scale(0.72)"><path d="M0 -4.2L1.6 -1.6L4.2 0L1.6 1.6L0 4.2L-1.6 1.6L-4.2 0L-1.6 -1.6Z" fill="#000"/></g>
<g transform="translate(71.9,62.7) scale(0.65)"><path d="M0 -3.9L4.1 3.9L-4.1 3.9Z" fill="#fff" stroke="#000" stroke-width="2.03"/></g>
<g transform="translate(75.8,62.7) scale(0.72)"><path d="M0 -4.2L1.6 -1.6L4.2 0L1.6 1.6L0 4.2L-1.6 1.6L-4.2 0L-1.6 -1.6Z" fill="#000"/></g>
<g transform="translate(40.7,79) scale(0.5)"><rect x="-3.9" y="-3.9" width="7.8" height="7.8" fill="#fff" stroke="#000" stroke-width="2.34"/></g>
<g transform="translate(85,79) scale(0.72)"><path d="M0 -4.2L1.6 -1.6L4.2 0L1.6 1.6L0 4.2L-1.6 1.6L-4.2 0L-1.6 -1.6Z" fill="#000"/></g>
<g transform="translate(49,96.5) scale(0.75)"><rect x="-3.8" y="-2.2" width="7.6" height="4.4" rx="1.8" fill="#000"/></g>
<g transform="translate(102.4,100.4) scale(0.65)"><path d="M0 -3.9L4.1 3.9L-4.1 3.9Z" fill="#fff" stroke="#000" stroke-width="2.03"/></g>
<g transform="translate(63.2,106.6) scale(0.75)"><rect x="-3.8" y="-2.2" width="7.6" height="4.4" rx="1.8" fill="#000"/></g>
<g transform="translate(71.1,106.6) scale(0.75)"><rect x="-3.8" y="-2.2" width="7.6" height="4.4" rx="1.8" fill="#000"/></g>
<g transform="translate(87.8,106.6) scale(0.75)"><rect x="-3.8" y="-2.2" width="7.6" height="4.4" rx="1.8" fill="#000"/></g>
<g transform="translate(128,106.6) scale(0.75)"><rect x="-3.8" y="-2.2" width="7.6" height="4.4" rx="1.8" fill="#000"/></g>
<g transform="translate(62.2,110.4) scale(0.55)"><rect x="-1.9" y="-1.9" width="3.8" height="3.8" rx="0.6" fill="#000" transform="translate(0.3,-3.2) rotate(35)"/><rect x="-1.9" y="-1.9" width="3.8" height="3.8" rx="0.6" fill="#000" transform="translate(-3.0,-0.2) rotate(30)"/><rect x="-1.9" y="-1.9" width="3.8" height="3.8" rx="0.6" fill="#000" transform="translate(-2.4,3.0) rotate(5)"/><rect x="-1.9" y="-1.9" width="3.8" height="3.8" rx="0.6" fill="#000" transform="translate(3.4,2.6) rotate(35)"/></g>
<g transform="translate(48.5,113.6) scale(0.6)"><rect x="-4.8" y="-4.8" width="9.6" height="9.6" fill="#858585"/><path d="M-0.9 -4.8V4.8M0.9 -4.8V4.8M-4.8 -0.9H4.8M-4.8 0.9H4.8" stroke="#1a1a1a" stroke-width="1.32" stroke-linecap="butt" fill="none"/></g>
<g transform="translate(51.9,113.8) scale(0.55)"><path d="M0 -5.0L5.5 0L0 5.0L-5.5 0Z" fill="#000"/></g>
<g transform="translate(74.5,117) scale(0.5)"><path d="M-4.4 -4.4L4.4 4.4M-4.4 4.4L4.4 -4.4" stroke="#000" stroke-width="2.85" stroke-linecap="butt" fill="none"/><path d="M0 -4.9V4.9" stroke="#000" stroke-width="2.85" stroke-linecap="butt" fill="none"/></g>
<g transform="translate(123.8,117.5) scale(0.65)"><path d="M0 -3.9L4.1 3.9L-4.1 3.9Z" fill="#fff" stroke="#000" stroke-width="2.03"/></g>
<g transform="translate(44.7,130.9) scale(0.5)"><circle cx="0" cy="0" r="4.3" fill="#000"/></g>
<g transform="translate(70.3,127.2) scale(1.0)"><rect x="-3.3" y="-1.6" width="6.6" height="3.2" rx="0.9" fill="#fff" stroke="#000" stroke-width="1.2"/></g>
<g transform="translate(94.9,134.6) scale(0.5)"><path d="M-4.4 -4.4L4.4 4.4M-4.4 4.4L4.4 -4.4" stroke="#000" stroke-width="2.85" stroke-linecap="butt" fill="none"/><path d="M0 -4.9V4.9" stroke="#000" stroke-width="2.85" stroke-linecap="butt" fill="none"/></g>
<g transform="translate(91.2,141) scale(0.6)"><circle cx="0" cy="0" r="2.6" fill="#000"/></g>
<g transform="translate(109.6,141) scale(0.6)"><circle cx="0" cy="0" r="2.6" fill="#000"/></g>
<g transform="translate(106.6,148.5) scale(0.85)"><rect x="-3.8" y="-3.8" width="7.6" height="7.6" fill="#fff" stroke="#000" stroke-width="3.06"/></g>
<g transform="translate(114.6,150.7) scale(0.5)"><path d="M-4.6 -4.6L4.6 4.6M-4.6 4.6L4.6 -4.6" stroke="#000" stroke-width="2.34" stroke-linecap="butt" fill="none"/></g>
<g transform="translate(48.2,148.5) scale(0.5)"><rect x="-4.6" y="-4.6" width="9.2" height="9.2" fill="#000"/></g>
<g transform="translate(63.2,148.5) scale(0.5)"><rect x="-4.6" y="-4.6" width="9.2" height="9.2" fill="#282828"/></g>
<g transform="translate(78.1,148.5) scale(0.5)"><path d="M0 -4.3L4.7 0L0 4.3L-4.7 0Z" fill="#7f7f7f" stroke="#000" stroke-width="2.34"/></g>
<g transform="translate(90.3,148.5) scale(1.0)"><circle r="2" fill="#fff" stroke="#000" stroke-width="1.1"/><path d="M-1.3 -1.3L1.3 1.3M-1.3 1.3L1.3 -1.3" stroke="#000" stroke-width="0.8"/></g>
<g transform="translate(73.5,155.5) scale(0.6)"><rect x="-1.9" y="-1.9" width="3.8" height="3.8" rx="0.6" fill="#000" transform="translate(0.3,-3.2) rotate(35)"/><rect x="-1.9" y="-1.9" width="3.8" height="3.8" rx="0.6" fill="#000" transform="translate(-3.0,-0.2) rotate(30)"/><rect x="-1.9" y="-1.9" width="3.8" height="3.8" rx="0.6" fill="#000" transform="translate(-2.4,3.0) rotate(5)"/><rect x="-1.9" y="-1.9" width="3.8" height="3.8" rx="0.6" fill="#000" transform="translate(3.4,2.6) rotate(35)"/></g>
<g transform="translate(99.2,161.9) scale(0.5)"><path d="M0 -5.0L5.5 0L0 5.0L-5.5 0Z" fill="#000"/></g>
<g transform="translate(57.4,165.7) scale(0.65)"><path d="M-4.8 0H4.8M0 -4.8V4.8" stroke="#000" stroke-width="2.28" stroke-linecap="butt" fill="none"/></g>
<g transform="translate(83.7,165.7) scale(0.65)"><path d="M-4.8 0H4.8M0 -4.8V4.8" stroke="#000" stroke-width="2.28" stroke-linecap="butt" fill="none"/></g>
<g transform="translate(105.1,168.9) scale(0.45)"><rect x="-4.6" y="-4.6" width="9.2" height="9.2" fill="#282828"/></g>
<g transform="translate(119.1,172.2) scale(0.5)"><path d="M0 -5.0L5.5 0L0 5.0L-5.5 0Z" fill="#000"/></g>
<g transform="translate(113.8,175.3) scale(0.6)"><rect x="-4.7" y="-2.9" width="9.4" height="5.8" rx="1.8" fill="#999"/></g>
<g transform="translate(43.8,178.9) scale(0.5)"><path d="M-4.6 -4.6L4.6 4.6M-4.6 4.6L4.6 -4.6" stroke="#000" stroke-width="2.34" stroke-linecap="butt" fill="none"/></g>
<g transform="translate(51.9,186.5) scale(0.5)"><path d="M-4.6 -4.6L4.6 4.6M-4.6 4.6L4.6 -4.6" stroke="#000" stroke-width="2.34" stroke-linecap="butt" fill="none"/></g>
<g transform="translate(89.2,189.5) scale(0.65)"><rect x="-3.5" y="-3.5" width="7.0" height="7.0" fill="#fff" stroke="#707070" stroke-width="3.3"/></g>
<g transform="translate(104.6,189.5) scale(0.5)"><path d="M-4.6 -4.6L4.6 4.6M-4.6 4.6L4.6 -4.6" stroke="#000" stroke-width="2.34" stroke-linecap="butt" fill="none"/></g>
<g transform="translate(112.4,189.5) scale(0.45)"><rect x="-4.6" y="-4.6" width="9.2" height="9.2" fill="#000"/></g>
<g transform="translate(120.1,193.2) scale(0.65)"><path d="M-4.8 0H4.8M0 -4.8V4.8" stroke="#000" stroke-width="2.28" stroke-linecap="butt" fill="none"/></g>
<g transform="translate(59.4,193.7) scale(0.65)"><path d="M0 -4.8L5.1 4.8L-5.1 4.8Z" fill="#7f7f7f"/></g>
<g transform="translate(73.6,200) scale(0.8)"><path d="M-3.9 -3.9L3.9 3.9M-3.9 3.9L3.9 -3.9" stroke="#000" stroke-width="2.9" stroke-linecap="butt" fill="none"/></g>
<g transform="translate(83.7,200) scale(0.5)"><circle cx="0" cy="0" r="4.3" fill="#000"/></g>
<g transform="translate(99,210) scale(0.55)"><path d="M-5.558780065098297 -4.1L2.6412199349017023 4.1M-5.558780065098297 4.1L2.6412199349017023 -4.1" stroke="#000" stroke-width="2.36" stroke-linecap="butt" fill="none"/><path d="M-2.6412199349017023 -4.1L5.558780065098297 4.1M-2.6412199349017023 4.1L5.558780065098297 -4.1" stroke="#000" stroke-width="2.36" stroke-linecap="butt" fill="none"/></g>
<g transform="translate(79.8,214.6) scale(0.65)"><path d="M0 -4.8L5.1 4.8L-5.1 4.8Z" fill="#7f7f7f"/></g>
<g transform="translate(124.1,216.7) scale(0.55)"><path d="M-5.558780065098297 -4.1L2.6412199349017023 4.1M-5.558780065098297 4.1L2.6412199349017023 -4.1" stroke="#000" stroke-width="2.36" stroke-linecap="butt" fill="none"/><path d="M-2.6412199349017023 -4.1L5.558780065098297 4.1M-2.6412199349017023 4.1L5.558780065098297 -4.1" stroke="#000" stroke-width="2.36" stroke-linecap="butt" fill="none"/></g>
<g transform="translate(155.1,127.9) scale(0.65)"><path d="M0 -3.9L4.1 3.9L-4.1 3.9Z" fill="#fff" stroke="#000" stroke-width="2.03"/></g>
<g transform="translate(166.8,141.3) scale(0.75)"><rect x="-3.8" y="-2.2" width="7.6" height="4.4" rx="1.8" fill="#000"/></g>
<g transform="translate(198.1,148.5) scale(1.0)"><rect x="-2.6" y="-2.6" width="5.2" height="5.2" rx="1.3" fill="#aaa" stroke="#000" stroke-width="1.7"/><path d="M-1.6 -1.6L1.6 1.6M-1.6 1.6L1.6 -1.6" stroke="#fff" stroke-width="0.9"/></g>
<g transform="translate(164.6,154.8) scale(0.5)"><path d="M-4.4 -4.4L4.4 4.4M-4.4 4.4L4.4 -4.4" stroke="#000" stroke-width="2.85" stroke-linecap="butt" fill="none"/><path d="M0 -4.9V4.9" stroke="#000" stroke-width="2.85" stroke-linecap="butt" fill="none"/></g>
<g transform="translate(143.9,158) scale(0.72)"><path d="M0 -4.2L1.6 -1.6L4.2 0L1.6 1.6L0 4.2L-1.6 1.6L-4.2 0L-1.6 -1.6Z" fill="#000"/></g>
<g transform="translate(183.5,162.2) scale(0.5)"><path d="M-4.4 -4.4L4.4 4.4M-4.4 4.4L4.4 -4.4" stroke="#000" stroke-width="2.85" stroke-linecap="butt" fill="none"/><path d="M0 -4.9V4.9" stroke="#000" stroke-width="2.85" stroke-linecap="butt" fill="none"/></g>
<g transform="translate(203.6,161.9) scale(0.5)"><path d="M-4.4 -4.4L4.4 4.4M-4.4 4.4L4.4 -4.4" stroke="#000" stroke-width="2.85" stroke-linecap="butt" fill="none"/><path d="M0 -4.9V4.9" stroke="#000" stroke-width="2.85" stroke-linecap="butt" fill="none"/></g>
<g transform="translate(205,165.2) scale(0.75)"><rect x="-3.8" y="-2.2" width="7.6" height="4.4" rx="1.8" fill="#000"/></g>
<g transform="translate(241.8,165.5) scale(0.55)"><path d="M-4.4 -4.4L4.4 4.4M-4.4 4.4L4.4 -4.4" stroke="#000" stroke-width="2.71" stroke-linecap="butt" fill="none"/><path d="M0 -4.9V4.9" stroke="#000" stroke-width="2.71" stroke-linecap="butt" fill="none"/></g>
<g transform="translate(241.8,165.5) scale(0.7)"><path d="M-4.8 0H4.8M0 -4.8V4.8" stroke="#000" stroke-width="2.19" stroke-linecap="butt" fill="none"/></g>
<g transform="translate(190.7,176.1) scale(0.72)"><path d="M0 -4.2L1.6 -1.6L4.2 0L1.6 1.6L0 4.2L-1.6 1.6L-4.2 0L-1.6 -1.6Z" fill="#000"/></g>
<g transform="translate(202.3,176.1) scale(0.5)"><path d="M0 -5.0L5.5 0L0 5.0L-5.5 0Z" fill="#000"/></g>
<g transform="translate(223.7,175.8) scale(0.5)"><path d="M-4.4 -4.4L4.4 4.4M-4.4 4.4L4.4 -4.4" stroke="#000" stroke-width="2.85" stroke-linecap="butt" fill="none"/><path d="M0 -4.9V4.9" stroke="#000" stroke-width="2.85" stroke-linecap="butt" fill="none"/></g>
<g transform="translate(231.6,176.1) scale(0.65)"><path d="M0 -3.9L4.1 3.9L-4.1 3.9Z" fill="#fff" stroke="#000" stroke-width="2.03"/></g>
<g transform="translate(224.5,183.1) scale(0.9)"><circle cx="0" cy="0" r="3.3" fill="#fff" stroke="#999" stroke-width="2.44"/></g>
<g transform="translate(231.6,182.8) scale(0.7)"><path d="M0 -4.8L5.4 0L0 4.8L-5.4 0Z" fill="#7f7f7f"/></g>
<g transform="translate(261.5,178.6) scale(1.0)"><rect x="-4.7" y="-1.3" width="9.4" height="2.6" rx="0.7" fill="#000"/></g>
<g transform="translate(170.7,186.5) scale(0.65)"><path d="M0 -4.4L4.7 4.4L-4.7 4.4Z" fill="#fff" stroke="#000" stroke-width="1.65"/><path d="M0 -0.9L1.9 2.7H-1.9Z" fill="#fff" stroke="#000" stroke-width="0.9"/></g>
<g transform="translate(170.7,190.8) scale(0.6)"><rect x="-4.7" y="-2.9" width="9.4" height="5.8" rx="1.8" fill="#999"/></g>
<g transform="translate(198.1,187) scale(0.65)"><path d="M0 -4.4L4.7 4.4L-4.7 4.4Z" fill="#fff" stroke="#000" stroke-width="1.65"/><path d="M0 -0.9L1.9 2.7H-1.9Z" fill="#fff" stroke="#000" stroke-width="0.9"/></g>
<g transform="translate(212,186.1) scale(0.65)"><path d="M0 -3.9L4.1 3.9L-4.1 3.9Z" fill="#fff" stroke="#000" stroke-width="2.03"/></g>
<g transform="translate(148.4,196.7) scale(1.0)"><rect x="-5.2" y="-2.7" width="10.4" height="5.4" rx="1.6" fill="#000"/><path d="M-3 0H3" stroke="#777" stroke-width="0.8"/></g>
<g transform="translate(188.1,196.7) scale(1.0)"><rect x="-5.2" y="-2.7" width="10.4" height="5.4" rx="1.6" fill="#000"/><path d="M-3 0H3" stroke="#777" stroke-width="0.8"/></g>
<g transform="translate(190.6,193.2) scale(0.5)"><rect x="-4.6" y="-4.6" width="9.2" height="9.2" fill="#000"/></g>
<g transform="translate(219.5,196.7) scale(1.0)"><rect x="-5.2" y="-2.7" width="10.4" height="5.4" rx="1.6" fill="#000"/><path d="M-3 0H3" stroke="#777" stroke-width="0.8"/></g>
<g transform="translate(231.2,196.7) scale(0.65)"><rect x="-5.3" y="-3.4" width="10.6" height="6.8" rx="2.2" fill="#000"/></g>
<g transform="translate(244.9,196.7) scale(0.55)"><path d="M0 -4.8L5.3 4.8L-5.3 4.8Z" fill="#000"/></g>
<g transform="translate(145.4,201.5) scale(0.6)"><path d="M-4.8 0H4.8M0 -4.8V4.8" stroke="#000" stroke-width="2.38" stroke-linecap="butt" fill="none"/></g>
<g transform="translate(145.4,206.5) scale(0.5)"><path d="M-4.6 -4.6L4.6 4.6M-4.6 4.6L4.6 -4.6" stroke="#000" stroke-width="2.34" stroke-linecap="butt" fill="none"/></g>
<g transform="translate(166.2,203.6) scale(1.0)"><rect x="-2.6" y="-2.6" width="5.2" height="5.2" fill="#fff" stroke="#000" stroke-width="1.3"/><path d="M-2.6 0H2.6" stroke="#000" stroke-width="0.9"/></g>
<g transform="translate(210.8,206.2) scale(0.55)"><rect x="-4.7" y="-2.9" width="9.4" height="5.8" rx="1.8" fill="#999"/></g>
<g transform="translate(234.6,210) scale(0.75)"><rect x="-4.3" y="-2.5" width="8.6" height="5.0" rx="1.6" fill="#fff" stroke="#000" stroke-width="2.23"/><path d="M-2.6 0H2.6M0 -1.2V1.2" stroke="#000" stroke-width="1.29" stroke-linecap="butt" fill="none"/></g>
<g transform="translate(254.8,206.8) scale(0.55)"><rect x="-3.9" y="-3.9" width="7.8" height="7.8" fill="#fff" stroke="#000" stroke-width="2.22"/></g>
<g transform="translate(252.1,209.9) scale(0.4)"><path d="M0 -5.0L5.5 0L0 5.0L-5.5 0Z" fill="#000"/></g>
<g transform="translate(174,216.7) scale(0.55)"><path d="M-5.558780065098297 -4.1L2.6412199349017023 4.1M-5.558780065098297 4.1L2.6412199349017023 -4.1" stroke="#000" stroke-width="2.36" stroke-linecap="butt" fill="none"/><path d="M-2.6412199349017023 -4.1L5.558780065098297 4.1M-2.6412199349017023 4.1L5.558780065098297 -4.1" stroke="#000" stroke-width="2.36" stroke-linecap="butt" fill="none"/></g>
<g transform="translate(296.5,165.7) scale(0.75)"><rect x="-3.8" y="-2.2" width="7.6" height="4.4" rx="1.8" fill="#000"/></g>
<g transform="translate(288.9,186.5) scale(0.5)"><circle cx="0" cy="0" r="4.4" fill="#fff" stroke="#000" stroke-width="2.34"/></g>
<g transform="translate(310.7,186.1) scale(1.0)"><path d="M-3.4 0H3.4M0 -3.4V3.4" stroke="#000" stroke-width="2.1" fill="none"/></g>
<g transform="translate(303.2,193.2) scale(0.7)"><rect x="-4.7" y="-1.3" width="9.4" height="2.6" rx="0.7" fill="#000"/></g>
<g transform="translate(270.9,200) scale(0.5)"><path d="M-5.637289980742906 -4.1L2.562710019257093 4.1M-5.637289980742906 4.1L2.562710019257093 -4.1" stroke="#000" stroke-width="2.49" stroke-linecap="butt" fill="none"/><path d="M-2.562710019257093 -4.1L5.637289980742906 4.1M-2.562710019257093 4.1L5.637289980742906 -4.1" stroke="#000" stroke-width="2.49" stroke-linecap="butt" fill="none"/></g>
<g transform="translate(288.9,200.3) scale(0.5)"><rect x="-3.9" y="-3.9" width="7.8" height="7.8" fill="#fff" stroke="#000" stroke-width="2.34"/></g>
<g transform="translate(284.6,203.4) scale(0.45)"><rect x="-4.6" y="-4.6" width="9.2" height="9.2" fill="#000"/></g>
<g transform="translate(297,200.3) scale(0.5)"><path d="M-5.637289980742906 -4.1L2.562710019257093 4.1M-5.637289980742906 4.1L2.562710019257093 -4.1" stroke="#000" stroke-width="2.49" stroke-linecap="butt" fill="none"/><path d="M-2.562710019257093 -4.1L5.637289980742906 4.1M-2.562710019257093 4.1L5.637289980742906 -4.1" stroke="#000" stroke-width="2.49" stroke-linecap="butt" fill="none"/></g>
<g transform="translate(299.5,200.3) scale(0.5)"><path d="M-5.637289980742906 -4.1L2.562710019257093 4.1M-5.637289980742906 4.1L2.562710019257093 -4.1" stroke="#b8b8b8" stroke-width="2.49" stroke-linecap="butt" fill="none"/><path d="M-2.562710019257093 -4.1L5.637289980742906 4.1M-2.562710019257093 4.1L5.637289980742906 -4.1" stroke="#b8b8b8" stroke-width="2.49" stroke-linecap="butt" fill="none"/></g>
<g transform="translate(271.4,210) scale(0.7)"><rect x="-4.9" y="-2.1" width="9.8" height="4.2" rx="2.1" fill="#4a4a4a" stroke="#000" stroke-width="2.31"/></g>
<g transform="translate(290.5,210) scale(0.55)"><rect x="-3.9" y="-3.9" width="7.8" height="7.8" fill="#fff" stroke="#000" stroke-width="2.22"/></g>
<g transform="translate(294.6,210) scale(0.4)"><path d="M0 -5.0L5.5 0L0 5.0L-5.5 0Z" fill="#000"/></g>
<g transform="translate(431.5,18.4) scale(0.8)"><path d="M0 -5.0L5.5 0L0 5.0L-5.5 0Z" fill="#000"/><circle cx="0" cy="0" r="1.15" fill="#fff"/></g>
<g transform="translate(431.2,45.5) scale(0.5)"><path d="M-4.6 -4.6L4.6 4.6M-4.6 4.6L4.6 -4.6" stroke="#000" stroke-width="2.34" stroke-linecap="butt" fill="none"/></g>
<g transform="translate(447.6,45.5) scale(0.88)"><circle cx="0" cy="0" r="2.6" fill="#000"/></g>
<g transform="translate(440.9,69.1) scale(0.5)"><path d="M-4.4 -4.4L4.4 4.4M-4.4 4.4L4.4 -4.4" stroke="#000" stroke-width="2.85" stroke-linecap="butt" fill="none"/><path d="M0 -4.9V4.9" stroke="#000" stroke-width="2.85" stroke-linecap="butt" fill="none"/></g>
<g transform="translate(465.1,69.1) scale(0.88)"><circle cx="0" cy="0" r="2.6" fill="#000"/></g>
<g transform="translate(475.5,69.1) scale(0.88)"><circle cx="0" cy="0" r="2.6" fill="#000"/></g>
<g transform="translate(482.7,69.1) scale(0.88)"><circle cx="0" cy="0" r="2.6" fill="#000"/></g>
<g transform="translate(502.4,80.3) scale(0.88)"><circle cx="0" cy="0" r="2.6" fill="#000"/></g>
<g transform="translate(428.7,90.3) scale(0.5)"><rect x="-4.6" y="-4.6" width="9.2" height="9.2" fill="#000"/></g>
<g transform="translate(432.5,86.5) scale(0.5)"><path d="M0 -5.0L5.5 0L0 5.0L-5.5 0Z" fill="#000"/></g>
<g transform="translate(439.2,90.7) scale(1.0)"><rect x="-3.3" y="-1.6" width="6.6" height="3.2" rx="0.9" fill="#fff" stroke="#000" stroke-width="1.2"/></g>
<g transform="translate(440.5,100.4) scale(0.5)"><path d="M-4.6 -4.6L4.6 4.6M-4.6 4.6L4.6 -4.6" stroke="#000" stroke-width="2.34" stroke-linecap="butt" fill="none"/></g>
<g transform="translate(440.5,107.6) scale(0.5)"><path d="M0 -4.3L4.7 0L0 4.3L-4.7 0Z" fill="#7f7f7f" stroke="#000" stroke-width="2.34"/></g>
<g transform="translate(462.1,111.3) scale(0.65)"><path d="M0 -3.9L4.1 3.9L-4.1 3.9Z" fill="#fff" stroke="#000" stroke-width="2.03"/></g>
<g transform="translate(436.3,114) scale(0.5)"><rect x="-4.6" y="-4.6" width="9.2" height="9.2" fill="#000"/></g>
<g transform="translate(427.8,121.4) scale(0.7)"><path d="M-5.377571976684188 -4.1L2.822428023315811 4.1M-5.377571976684188 4.1L2.822428023315811 -4.1" stroke="#b8b8b8" stroke-width="2.07" stroke-linecap="butt" fill="none"/><path d="M-2.822428023315811 -4.1L5.377571976684188 4.1M-2.822428023315811 4.1L5.377571976684188 -4.1" stroke="#b8b8b8" stroke-width="2.07" stroke-linecap="butt" fill="none"/></g>
<g transform="translate(440.4,141.8) scale(0.5)"><path d="M0 -5.0L5.5 0L0 5.0L-5.5 0Z" fill="#000"/></g>
<g transform="translate(460.4,148.5) scale(1.0)"><circle r="2" fill="#fff" stroke="#000" stroke-width="1.1"/><path d="M-1.3 -1.3L1.3 1.3M-1.3 1.3L1.3 -1.3" stroke="#000" stroke-width="0.8"/></g>
<g transform="translate(481.4,148.5) scale(1.0)"><circle r="2" fill="#fff" stroke="#000" stroke-width="1.1"/><path d="M-1.3 -1.3L1.3 1.3M-1.3 1.3L1.3 -1.3" stroke="#000" stroke-width="0.8"/></g>
<g transform="translate(496.6,148.5) scale(0.5)"><path d="M-4.6 -4.6L4.6 4.6M-4.6 4.6L4.6 -4.6" stroke="#000" stroke-width="2.34" stroke-linecap="butt" fill="none"/></g>
<g transform="translate(427.1,155.5) scale(0.55)"><rect x="-3.9" y="-3.9" width="7.8" height="7.8" fill="#fff" stroke="#000" stroke-width="2.22"/></g>
<g transform="translate(458.1,155.5) scale(1.0)"><rect x="-3.3" y="-1.6" width="6.6" height="3.2" rx="0.9" fill="#fff" stroke="#000" stroke-width="1.2"/></g>
<g transform="translate(497.4,155.5) scale(0.45)"><rect x="-4.6" y="-4.6" width="9.2" height="9.2" fill="#282828"/></g>
<g transform="translate(437.2,176.6) scale(0.75)"><rect x="-3.8" y="-2.2" width="7.6" height="4.4" rx="1.8" fill="#000"/></g>
<g transform="translate(432.8,183.1) scale(0.5)"><circle cx="0" cy="0" r="4.3" fill="#000"/></g>
<g transform="translate(447.6,182.8) scale(0.65)"><path d="M-4.8 0H4.8M0 -4.8V4.8" stroke="#000" stroke-width="2.28" stroke-linecap="butt" fill="none"/></g>
<g transform="translate(451.2,180.3) scale(0.5)"><rect x="-1.9" y="-1.9" width="3.8" height="3.8" rx="0.6" fill="#000" transform="translate(0.3,-3.2) rotate(35)"/><rect x="-1.9" y="-1.9" width="3.8" height="3.8" rx="0.6" fill="#000" transform="translate(-3.0,-0.2) rotate(30)"/><rect x="-1.9" y="-1.9" width="3.8" height="3.8" rx="0.6" fill="#000" transform="translate(-2.4,3.0) rotate(5)"/><rect x="-1.9" y="-1.9" width="3.8" height="3.8" rx="0.6" fill="#000" transform="translate(3.4,2.6) rotate(35)"/></g>
<g transform="translate(474.3,183.1) scale(0.5)"><circle cx="0" cy="0" r="4.3" fill="#000"/></g>
<g transform="translate(498.9,179.4) scale(0.85)"><rect x="-3.8" y="-3.8" width="7.6" height="7.6" fill="#fff" stroke="#000" stroke-width="3.06"/></g>
<g transform="translate(488.9,192.8) scale(0.55)"><rect x="-4.7" y="-2.9" width="9.4" height="5.8" rx="1.8" fill="#999"/></g>
<g transform="translate(474.3,200.3) scale(0.65)"><path d="M-4.8 0H4.8M0 -4.8V4.8" stroke="#000" stroke-width="2.28" stroke-linecap="butt" fill="none"/></g>
<g transform="translate(512.8,200.3) scale(0.65)"><path d="M-4.8 0H4.8M0 -4.8V4.8" stroke="#000" stroke-width="2.28" stroke-linecap="butt" fill="none"/></g>
<g transform="translate(517,197.3) scale(0.65)"><path d="M0 -3.9L4.1 3.9L-4.1 3.9Z" fill="#fff" stroke="#000" stroke-width="2.03"/></g>
<g transform="translate(468.5,203.7) scale(0.5)"><path d="M0 -4.3L4.7 0L0 4.3L-4.7 0Z" fill="#7f7f7f" stroke="#000" stroke-width="2.34"/></g>
<g transform="translate(463.8,210.4) scale(0.8)"><path d="M-3.9 -3.9L3.9 3.9M-3.9 3.9L3.9 -3.9" stroke="#000" stroke-width="2.9" stroke-linecap="butt" fill="none"/></g>
<g transform="translate(460.4,217.4) scale(0.8)"><rect x="-3.8" y="-2.2" width="7.6" height="4.4" rx="1.8" fill="#000"/></g>
<g transform="translate(478.5,217.4) scale(0.8)"><rect x="-3.8" y="-2.2" width="7.6" height="4.4" rx="1.8" fill="#000"/></g>
<g transform="translate(561.3,138.4) scale(0.5)"><path d="M-4.4 -4.4L4.4 4.4M-4.4 4.4L4.4 -4.4" stroke="#000" stroke-width="2.85" stroke-linecap="butt" fill="none"/><path d="M0 -4.9V4.9" stroke="#000" stroke-width="2.85" stroke-linecap="butt" fill="none"/></g>
<g transform="translate(537.7,155.5) scale(0.72)"><path d="M0 -4.2L1.6 -1.6L4.2 0L1.6 1.6L0 4.2L-1.6 1.6L-4.2 0L-1.6 -1.6Z" fill="#000"/></g>
<g transform="translate(581.4,159.4) scale(0.5)"><path d="M-4.4 -4.4L4.4 4.4M-4.4 4.4L4.4 -4.4" stroke="#000" stroke-width="2.85" stroke-linecap="butt" fill="none"/><path d="M0 -4.9V4.9" stroke="#000" stroke-width="2.85" stroke-linecap="butt" fill="none"/></g>
<g transform="translate(588.9,182.8) scale(0.72)"><path d="M0 -4.2L1.6 -1.6L4.2 0L1.6 1.6L0 4.2L-1.6 1.6L-4.2 0L-1.6 -1.6Z" fill="#000"/></g>
<g transform="translate(631.4,190) scale(0.72)"><path d="M0 -4.2L1.6 -1.6L4.2 0L1.6 1.6L0 4.2L-1.6 1.6L-4.2 0L-1.6 -1.6Z" fill="#000"/></g>
<g transform="translate(531.5,187.3) scale(0.7)"><path d="M0 -4.4L4.7 4.4L-4.7 4.4Z" fill="#fff" stroke="#000" stroke-width="1.58"/><path d="M0 -0.9L1.9 2.7H-1.9Z" fill="#fff" stroke="#000" stroke-width="0.9"/></g>
<g transform="translate(550.8,197.3) scale(0.65)"><path d="M0 -3.9L4.1 3.9L-4.1 3.9Z" fill="#fff" stroke="#000" stroke-width="2.03"/></g>
<g transform="translate(567.5,200.3) scale(0.65)"><path d="M0 -3.9L4.1 3.9L-4.1 3.9Z" fill="#fff" stroke="#000" stroke-width="2.03"/></g>
<g transform="translate(602.2,200.3) scale(0.5)"><path d="M-4.4 -4.4L4.4 4.4M-4.4 4.4L4.4 -4.4" stroke="#000" stroke-width="2.85" stroke-linecap="butt" fill="none"/><path d="M0 -4.9V4.9" stroke="#000" stroke-width="2.85" stroke-linecap="butt" fill="none"/></g>
<g transform="translate(623.9,210.4) scale(0.5)"><path d="M-4.4 -4.4L4.4 4.4M-4.4 4.4L4.4 -4.4" stroke="#000" stroke-width="2.85" stroke-linecap="butt" fill="none"/><path d="M0 -4.9V4.9" stroke="#000" stroke-width="2.85" stroke-linecap="butt" fill="none"/></g>
<g transform="translate(630.3,210.4) scale(0.55)"><path d="M0 -4.8L5.3 4.8L-5.3 4.8Z" fill="#000"/></g>
<g transform="translate(634.1,206.7) scale(0.4)"><path d="M0 -4.3L4.7 0L0 4.3L-4.7 0Z" fill="#7f7f7f" stroke="#000" stroke-width="2.65"/></g>
<g transform="translate(647,210.4) scale(0.55)"><path d="M0 -4.8L5.3 4.8L-5.3 4.8Z" fill="#000"/></g>
<g transform="translate(520.7,217.4) scale(0.8)"><rect x="-3.8" y="-2.2" width="7.6" height="4.4" rx="1.8" fill="#000"/></g>
<g transform="translate(540.4,217.1) scale(0.65)"><path d="M-4.8 0H4.8M0 -4.8V4.8" stroke="#000" stroke-width="2.28" stroke-linecap="butt" fill="none"/></g>
<g transform="translate(567.2,217.1) scale(0.65)"><rect x="-3.5" y="-3.5" width="7.0" height="7.0" fill="#fff" stroke="#707070" stroke-width="3.3"/></g>
<g transform="translate(587.3,217.1) scale(0.55)"><rect x="-4.7" y="-2.9" width="9.4" height="5.8" rx="1.8" fill="#999"/></g>
<g transform="translate(616,217.6) scale(1.0)"><rect x="-1.9" y="-0.75" width="3.8" height="1.5" rx="0.4" fill="#000"/></g>
<g transform="translate(721.6,179.1) scale(1.0)"><rect x="-4.7" y="-1.3" width="9.4" height="2.6" rx="0.7" fill="#000"/></g>
<g transform="translate(748.4,182.8) scale(0.5)"><rect x="-4.6" y="-4.6" width="9.2" height="9.2" fill="#282828"/></g>
<g transform="translate(694,190) scale(0.55)"><circle cx="0" cy="0" r="4.4" fill="#fff" stroke="#000" stroke-width="2.22"/></g>
<g transform="translate(739.2,190) scale(0.5)"><circle cx="0" cy="0" r="4.3" fill="#000"/></g>
<g transform="translate(750.4,190) scale(0.65)"><path d="M0 -4.3L4.7 0L0 4.3L-4.7 0Z" fill="#7f7f7f" stroke="#000" stroke-width="2.03"/></g>
<g transform="translate(765.6,190) scale(0.7)"><rect x="-3.8" y="-3.8" width="7.6" height="7.6" fill="#fff" stroke="#000" stroke-width="3.41"/></g>
<g transform="translate(694,200.3) scale(0.55)"><circle cx="0" cy="0" r="4.4" fill="#fff" stroke="#000" stroke-width="2.22"/></g>
<g transform="translate(750.4,200.3) scale(0.6)"><rect x="-4.9" y="-2.1" width="9.8" height="4.2" rx="2.1" fill="#4a4a4a" stroke="#000" stroke-width="2.52"/></g>
<g transform="translate(730.8,206.7) scale(0.5)"><path d="M-5.637289980742906 -4.1L2.562710019257093 4.1M-5.637289980742906 4.1L2.562710019257093 -4.1" stroke="#000" stroke-width="2.49" stroke-linecap="butt" fill="none"/><path d="M-2.562710019257093 -4.1L5.637289980742906 4.1M-2.562710019257093 4.1L5.637289980742906 -4.1" stroke="#000" stroke-width="2.49" stroke-linecap="butt" fill="none"/></g>
<g transform="translate(733.5,205.5) scale(0.45)"><path d="M-4.0 -4.0L4.0 4.0M-4.0 4.0L4.0 -4.0" stroke="#999" stroke-width="3.1" stroke-linecap="butt" fill="none"/></g>
<g transform="translate(750.4,207.4) scale(0.7)"><path d="M0 -4.4L4.7 4.4L-4.7 4.4Z" fill="#fff" stroke="#000" stroke-width="1.58"/><path d="M0 -0.9L1.9 2.7H-1.9Z" fill="#fff" stroke="#000" stroke-width="0.9"/></g>
<g transform="translate(716.6,210.4) scale(0.65)"><path d="M-4.8 0H4.8M0 -4.8V4.8" stroke="#000" stroke-width="2.28" stroke-linecap="butt" fill="none"/></g>
<g transform="translate(653.9,207) scale(0.5)"><path d="M0 -4.2L1.6 -1.6L4.2 0L1.6 1.6L0 4.2L-1.6 1.6L-4.2 0L-1.6 -1.6Z" fill="#000"/></g>
<g transform="translate(676.8,217.4) scale(0.72)"><path d="M0 -4.2L1.6 -1.6L4.2 0L1.6 1.6L0 4.2L-1.6 1.6L-4.2 0L-1.6 -1.6Z" fill="#000"/></g>
<g transform="translate(699.5,217.4) scale(0.72)"><path d="M0 -4.2L1.6 -1.6L4.2 0L1.6 1.6L0 4.2L-1.6 1.6L-4.2 0L-1.6 -1.6Z" fill="#000"/></g>
<g transform="translate(731.7,217.1) scale(0.5)"><path d="M-4.4 -4.4L4.4 4.4M-4.4 4.4L4.4 -4.4" stroke="#000" stroke-width="2.85" stroke-linecap="butt" fill="none"/><path d="M0 -4.9V4.9" stroke="#000" stroke-width="2.85" stroke-linecap="butt" fill="none"/></g>
<g transform="translate(753.1,217.1) scale(0.5)"><path d="M-4.4 -4.4L4.4 4.4M-4.4 4.4L4.4 -4.4" stroke="#000" stroke-width="2.85" stroke-linecap="butt" fill="none"/><path d="M0 -4.9V4.9" stroke="#000" stroke-width="2.85" stroke-linecap="butt" fill="none"/></g>
<g transform="translate(741.7,215.7) scale(0.5)"><rect x="-4.7" y="-2.9" width="9.4" height="5.8" rx="1.8" fill="#999"/></g>
<g transform="translate(765.1,210.4) scale(1.0)"><rect x="-1.9" y="-0.75" width="3.8" height="1.5" rx="0.4" fill="#000"/></g>
<g transform="translate(765.1,214.8) scale(0.35)"><rect x="-3.9" y="-3.9" width="7.8" height="7.8" fill="#fff" stroke="#000" stroke-width="2.85"/></g>
<g transform="translate(51,300.1) scale(0.5)"><path d="M-4.6 -4.6L4.6 4.6M-4.6 4.6L4.6 -4.6" stroke="#000" stroke-width="2.34" stroke-linecap="butt" fill="none"/></g>
<g transform="translate(40.2,368.5) scale(0.5)"><rect x="-4.6" y="-4.6" width="9.2" height="9.2" fill="#000"/></g>
<g transform="translate(73.1,370.7) scale(0.5)"><path d="M-4.4 -4.4L4.4 4.4M-4.4 4.4L4.4 -4.4" stroke="#000" stroke-width="2.85" stroke-linecap="butt" fill="none"/><path d="M0 -4.9V4.9" stroke="#000" stroke-width="2.85" stroke-linecap="butt" fill="none"/></g>
<g transform="translate(47.3,383.5) scale(0.5)"><rect x="-4.6" y="-4.6" width="9.2" height="9.2" fill="#000"/></g>
<g transform="translate(51.5,382.2) scale(0.4)"><path d="M0 -4.3L4.7 0L0 4.3L-4.7 0Z" fill="#7f7f7f" stroke="#000" stroke-width="2.65"/></g>
<g transform="translate(56.4,382.7) scale(0.65)"><path d="M-4.8 0H4.8M0 -4.8V4.8" stroke="#000" stroke-width="2.28" stroke-linecap="butt" fill="none"/></g>
<g transform="translate(114.3,382.2) scale(0.5)"><path d="M-4.4 -4.4L4.4 4.4M-4.4 4.4L4.4 -4.4" stroke="#000" stroke-width="2.85" stroke-linecap="butt" fill="none"/><path d="M0 -4.9V4.9" stroke="#000" stroke-width="2.85" stroke-linecap="butt" fill="none"/></g>
<g transform="translate(128,376.8) scale(0.75)"><rect x="-3.8" y="-2.2" width="7.6" height="4.4" rx="1.8" fill="#000"/></g>
<g transform="translate(93.7,388.2) scale(0.5)"><path d="M-4.4 -4.4L4.4 4.4M-4.4 4.4L4.4 -4.4" stroke="#000" stroke-width="2.85" stroke-linecap="butt" fill="none"/><path d="M0 -4.9V4.9" stroke="#000" stroke-width="2.85" stroke-linecap="butt" fill="none"/></g>
<g transform="translate(104.1,388.6) scale(0.5)"><path d="M-4.4 -4.4L4.4 4.4M-4.4 4.4L4.4 -4.4" stroke="#000" stroke-width="2.85" stroke-linecap="butt" fill="none"/><path d="M0 -4.9V4.9" stroke="#000" stroke-width="2.85" stroke-linecap="butt" fill="none"/></g>
<g transform="translate(119.1,393.6) scale(0.65)"><path d="M-4.8 0H4.8M0 -4.8V4.8" stroke="#000" stroke-width="2.28" stroke-linecap="butt" fill="none"/></g>
<g transform="translate(72.8,393.6) scale(0.8)"><path d="M-3.9 -3.9L3.9 3.9M-3.9 3.9L3.9 -3.9" stroke="#000" stroke-width="2.9" stroke-linecap="butt" fill="none"/></g>
<g transform="translate(38.8,399.4) scale(0.5)"><rect x="-4.8" y="-4.8" width="9.6" height="9.6" fill="#858585"/><path d="M-0.9 -4.8V4.8M0.9 -4.8V4.8M-4.8 -0.9H4.8M-4.8 0.9H4.8" stroke="#1a1a1a" stroke-width="1.46" stroke-linecap="butt" fill="none"/></g>
<g transform="translate(71.1,401.1) scale(0.5)"><rect x="-4.6" y="-4.6" width="9.2" height="9.2" fill="#000"/></g>
<g transform="translate(68.6,403.6) scale(0.45)"><rect x="-4.6" y="-4.6" width="9.2" height="9.2" fill="#000"/></g>
<g transform="translate(67.8,405.6) scale(1.0)"><rect x="-3.3" y="-1.6" width="6.6" height="3.2" rx="0.9" fill="#fff" stroke="#000" stroke-width="1.2"/></g>
<g transform="translate(77.8,398.9) scale(0.35)"><circle cx="0" cy="0" r="4.4" fill="#fff" stroke="#000" stroke-width="2.85"/></g>
<g transform="translate(82,399.4) scale(0.65)"><path d="M-4.8 0H4.8M0 -4.8V4.8" stroke="#000" stroke-width="2.28" stroke-linecap="butt" fill="none"/></g>
<g transform="translate(39.7,406.5) scale(0.45)"><rect x="-4.6" y="-4.6" width="9.2" height="9.2" fill="#282828"/></g>
<g transform="translate(50.7,406.5) scale(0.5)"><path d="M0 -5.0L5.5 0L0 5.0L-5.5 0Z" fill="#000"/></g>
<g transform="translate(98.7,406.1) scale(0.5)"><path d="M0 -5.0L5.5 0L0 5.0L-5.5 0Z" fill="#000"/></g>
<g transform="translate(75,412) scale(0.65)"><path d="M0 -4.8L5.1 4.8L-5.1 4.8Z" fill="#7f7f7f"/></g>
<g transform="translate(83.2,412) scale(0.5)"><circle cx="0" cy="0" r="4.3" fill="#000"/></g>
<g transform="translate(97.4,411.6) scale(0.5)"><path d="M-4.4 -4.4L4.4 4.4M-4.4 4.4L4.4 -4.4" stroke="#000" stroke-width="2.85" stroke-linecap="butt" fill="none"/><path d="M0 -4.9V4.9" stroke="#000" stroke-width="2.85" stroke-linecap="butt" fill="none"/></g>
<g transform="translate(104.6,415.7) scale(0.45)"><rect x="-4.6" y="-4.6" width="9.2" height="9.2" fill="#282828"/></g>
<g transform="translate(111.3,416.2) scale(0.5)"><rect x="-4.6" y="-4.6" width="9.2" height="9.2" fill="#000"/></g>
<g transform="translate(125.1,412) scale(0.65)"><path d="M0 -4.8L5.1 4.8L-5.1 4.8Z" fill="#7f7f7f"/></g>
<g transform="translate(123.5,417.8) scale(0.5)"><path d="M-5.637289980742906 -4.1L2.562710019257093 4.1M-5.637289980742906 4.1L2.562710019257093 -4.1" stroke="#000" stroke-width="2.49" stroke-linecap="butt" fill="none"/><path d="M-2.562710019257093 -4.1L5.637289980742906 4.1M-2.562710019257093 4.1L5.637289980742906 -4.1" stroke="#000" stroke-width="2.49" stroke-linecap="butt" fill="none"/></g>
<g transform="translate(113.3,423.7) scale(0.55)"><rect x="-4.7" y="-2.9" width="9.4" height="5.8" rx="1.8" fill="#999"/></g>
<g transform="translate(118.5,423.7) scale(0.5)"><path d="M0 -5.0L5.5 0L0 5.0L-5.5 0Z" fill="#000"/></g>
<g transform="translate(61.9,421.5) scale(0.45)"><rect x="-4.6" y="-4.6" width="9.2" height="9.2" fill="#282828"/></g>
<g transform="translate(47.3,426.5) scale(0.65)"><rect x="-3.5" y="-3.5" width="7.0" height="7.0" fill="#fff" stroke="#707070" stroke-width="3.3"/></g>
<g transform="translate(88.2,431.6) scale(0.65)"><rect x="-3.5" y="-3.5" width="7.0" height="7.0" fill="#fff" stroke="#707070" stroke-width="3.3"/></g>
<g transform="translate(197.8,359.3) scale(1.0)"><rect x="-2.6" y="-2.6" width="5.2" height="5.2" rx="1.3" fill="#aaa" stroke="#000" stroke-width="1.7"/><path d="M-1.6 -1.6L1.6 1.6M-1.6 1.6L1.6 -1.6" stroke="#fff" stroke-width="0.9"/></g>
<g transform="translate(170.2,382.7) scale(0.7)"><path d="M0 -4.4L4.7 4.4L-4.7 4.4Z" fill="#fff" stroke="#000" stroke-width="1.58"/><path d="M0 -0.9L1.9 2.7H-1.9Z" fill="#fff" stroke="#000" stroke-width="0.9"/></g>
<g transform="translate(166,388.6) scale(0.75)"><rect x="-3.8" y="-2.2" width="7.6" height="4.4" rx="1.8" fill="#000"/></g>
<g transform="translate(203.1,388.6) scale(0.5)"><path d="M-4.4 -4.4L4.4 4.4M-4.4 4.4L4.4 -4.4" stroke="#000" stroke-width="2.85" stroke-linecap="butt" fill="none"/><path d="M0 -4.9V4.9" stroke="#000" stroke-width="2.85" stroke-linecap="butt" fill="none"/></g>
<g transform="translate(205.3,394.4) scale(0.75)"><rect x="-3.8" y="-2.2" width="7.6" height="4.4" rx="1.8" fill="#000"/></g>
<g transform="translate(144.7,394.4) scale(0.5)"><path d="M-4.4 -4.4L4.4 4.4M-4.4 4.4L4.4 -4.4" stroke="#000" stroke-width="2.85" stroke-linecap="butt" fill="none"/><path d="M0 -4.9V4.9" stroke="#000" stroke-width="2.85" stroke-linecap="butt" fill="none"/></g>
<g transform="translate(231.6,394.4) scale(0.65)"><path d="M0 -3.9L4.1 3.9L-4.1 3.9Z" fill="#fff" stroke="#000" stroke-width="2.03"/></g>
<g transform="translate(198.1,400.3) scale(0.65)"><path d="M0 -3.9L4.1 3.9L-4.1 3.9Z" fill="#fff" stroke="#000" stroke-width="2.03"/></g>
<g transform="translate(211.6,400.3) scale(0.65)"><path d="M0 -3.9L4.1 3.9L-4.1 3.9Z" fill="#fff" stroke="#000" stroke-width="2.03"/></g>
<g transform="translate(244.9,399.9) scale(0.55)"><path d="M0 -4.8L5.3 4.8L-5.3 4.8Z" fill="#000"/></g>
<g transform="translate(145.4,406.5) scale(0.65)"><path d="M-4.8 0H4.8M0 -4.8V4.8" stroke="#000" stroke-width="2.28" stroke-linecap="butt" fill="none"/></g>
<g transform="translate(165.6,412) scale(0.6)"><rect x="-3.9" y="-3.9" width="7.8" height="7.8" fill="#fff" stroke="#000" stroke-width="2.12"/></g>
<g transform="translate(184.7,412) scale(1.0)"><rect x="-1.9" y="-0.75" width="3.8" height="1.5" rx="0.4" fill="#000"/></g>
<g transform="translate(201.6,412) scale(0.5)"><path d="M0 -5.0L5.5 0L0 5.0L-5.5 0Z" fill="#000"/></g>
<g transform="translate(215.8,412) scale(1.0)"><rect x="-1.9" y="-0.75" width="3.8" height="1.5" rx="0.4" fill="#000"/></g>
<g transform="translate(173.8,417.8) scale(0.5)"><path d="M-5.637289980742906 -4.1L2.562710019257093 4.1M-5.637289980742906 4.1L2.562710019257093 -4.1" stroke="#000" stroke-width="2.49" stroke-linecap="butt" fill="none"/><path d="M-2.562710019257093 -4.1L5.637289980742906 4.1M-2.562710019257093 4.1L5.637289980742906 -4.1" stroke="#000" stroke-width="2.49" stroke-linecap="butt" fill="none"/></g>
<g transform="translate(189.7,421.7) scale(0.5)"><rect x="-4.6" y="-4.6" width="9.2" height="9.2" fill="#000"/></g>
<g transform="translate(224.5,418.2) scale(0.9)"><circle cx="0" cy="0" r="3.3" fill="#fff" stroke="#999" stroke-width="2.44"/></g>
<g transform="translate(231.6,417.5) scale(0.7)"><path d="M0 -4.8L5.4 0L0 4.8L-5.4 0Z" fill="#7f7f7f"/></g>
<g transform="translate(232.9,423.7) scale(0.6)"><path d="M-1.5 -4.5V4.5M1.5 -4.5V4.5M-4.6 -1.5H4.6M-4.6 1.5H4.6" stroke="#000" stroke-width="2.25" stroke-linecap="butt" fill="none"/></g>
<g transform="translate(240.4,423.7) scale(1.0)"><path d="M-3.4 0H3.4M0 -3.4V3.4" stroke="#000" stroke-width="2.1" fill="none"/></g>
<g transform="translate(232.9,429.5) scale(0.4)"><path d="M0 -4.3L4.7 0L0 4.3L-4.7 0Z" fill="#7f7f7f" stroke="#000" stroke-width="2.65"/></g>
<g transform="translate(254.6,423.4) scale(0.6)"><rect x="-3.9" y="-3.9" width="7.8" height="7.8" fill="#fff" stroke="#000" stroke-width="2.12"/></g>
<g transform="translate(170.2,435.4) scale(0.65)"><rect x="-3.5" y="-3.5" width="7.0" height="7.0" fill="#fff" stroke="#707070" stroke-width="3.3"/></g>
<g transform="translate(210.6,435.7) scale(0.5)"><rect x="-4.7" y="-2.9" width="9.4" height="5.8" rx="1.8" fill="#999"/></g>
<g transform="translate(289.3,382.4) scale(0.5)"><circle cx="0" cy="0" r="4.4" fill="#fff" stroke="#000" stroke-width="2.34"/></g>
<g transform="translate(289.3,399.9) scale(0.5)"><circle cx="0" cy="0" r="4.4" fill="#fff" stroke="#000" stroke-width="2.34"/></g>
<g transform="translate(296.5,399.9) scale(0.7)"><rect x="-3.8" y="-2.2" width="7.6" height="4.4" rx="1.8" fill="#000"/></g>
<g transform="translate(304,399.9) scale(0.55)"><rect x="-4.9" y="-2.1" width="9.8" height="4.2" rx="2.1" fill="#4a4a4a" stroke="#000" stroke-width="2.64"/></g>
<g transform="translate(331.4,405.3) scale(1.0)"><rect x="-3.9" y="-3.9" width="7.8" height="7.8" fill="#8a8a8a"/><path d="M-3.9 0H3.9M0 -3.9V3.9" stroke="#111" stroke-width="1.9"/></g>
<g transform="translate(315.7,412) scale(1.0)"><rect x="-3.9" y="-3.9" width="7.8" height="7.8" fill="#8a8a8a"/><path d="M-3.9 0H3.9M0 -3.9V3.9" stroke="#111" stroke-width="1.9"/></g>
<g transform="translate(323.6,408.6) scale(1.0)"><rect x="-5.7" y="-1.7" width="11.4" height="3.4" rx="0.8" fill="#fff" stroke="#000" stroke-width="1.2"/></g>
<g transform="translate(339.5,399.5) scale(0.45)"><circle cx="0" cy="0" r="4.3" fill="#000"/></g>
<g transform="translate(343,399) scale(0.6)"><rect x="-3.8" y="-3.8" width="7.6" height="7.6" fill="#fff" stroke="#000" stroke-width="3.71"/></g>
<g transform="translate(342,407) scale(0.7)"><path d="M0 -4.4L4.7 4.4L-4.7 4.4Z" fill="#fff" stroke="#000" stroke-width="1.58"/><path d="M0 -0.9L1.9 2.7H-1.9Z" fill="#fff" stroke="#000" stroke-width="0.9"/></g>
<g transform="translate(340.8,412.3) scale(0.45)"><rect x="-4.6" y="-4.6" width="9.2" height="9.2" fill="#282828"/></g>
<g transform="translate(324.9,417) scale(0.8)"><path d="M-4.0 -4.0L4.0 4.0M-4.0 4.0L4.0 -4.0" stroke="#999" stroke-width="2.26" stroke-linecap="butt" fill="none"/></g>
<g transform="translate(332.3,417.8) scale(0.45)"><circle cx="0" cy="0" r="4.3" fill="#000"/></g>
<g transform="translate(357.4,417.5) scale(0.65)"><rect x="-3.8" y="-3.8" width="7.6" height="7.6" fill="#fff" stroke="#000" stroke-width="3.55"/></g>
<g transform="translate(263.3,423.4) scale(0.7)"><rect x="-4.7" y="-1.3" width="9.4" height="2.6" rx="0.7" fill="#000"/></g>
<g transform="translate(270.9,423.7) scale(0.55)"><path d="M-5.558780065098297 -4.1L2.6412199349017023 4.1M-5.558780065098297 4.1L2.6412199349017023 -4.1" stroke="#000" stroke-width="2.36" stroke-linecap="butt" fill="none"/><path d="M-2.6412199349017023 -4.1L5.558780065098297 4.1M-2.6412199349017023 4.1L5.558780065098297 -4.1" stroke="#000" stroke-width="2.36" stroke-linecap="butt" fill="none"/></g>
<g transform="translate(285.4,423.7) scale(0.5)"><rect x="-4.6" y="-4.6" width="9.2" height="9.2" fill="#000"/></g>
<g transform="translate(298,423.4) scale(0.55)"><path d="M-5.558780065098297 -4.1L2.6412199349017023 4.1M-5.558780065098297 4.1L2.6412199349017023 -4.1" stroke="#000" stroke-width="2.36" stroke-linecap="butt" fill="none"/><path d="M-2.6412199349017023 -4.1L5.558780065098297 4.1M-2.6412199349017023 4.1L5.558780065098297 -4.1" stroke="#000" stroke-width="2.36" stroke-linecap="butt" fill="none"/></g>
<g transform="translate(300.5,423.4) scale(0.55)"><path d="M-5.558780065098297 -4.1L2.6412199349017023 4.1M-5.558780065098297 4.1L2.6412199349017023 -4.1" stroke="#b8b8b8" stroke-width="2.36" stroke-linecap="butt" fill="none"/><path d="M-2.6412199349017023 -4.1L5.558780065098297 4.1M-2.6412199349017023 4.1L5.558780065098297 -4.1" stroke="#b8b8b8" stroke-width="2.36" stroke-linecap="butt" fill="none"/></g>
<g transform="translate(318.6,423.7) scale(0.9)"><circle cx="0" cy="0" r="3.3" fill="#fff" stroke="#999" stroke-width="2.44"/></g>
<g transform="translate(324.1,423.7) scale(0.45)"><rect x="-4.6" y="-4.6" width="9.2" height="9.2" fill="#000"/></g>
<g transform="translate(314,429.3) scale(0.6)"><rect x="-4.7" y="-1.3" width="9.4" height="2.6" rx="0.7" fill="#000"/></g>
<g transform="translate(322.2,430) scale(0.55)"><path d="M0 -4.6L5.0 0L0 4.6L-5.0 0Z" fill="#fff" stroke="#000" stroke-width="2.08"/><path d="M0 -1.6L1.7 0L0 1.6L-1.7 0Z" fill="#000"/></g>
<g transform="translate(342.5,429.5) scale(0.55)"><path d="M0 -4.6L5.0 0L0 4.6L-5.0 0Z" fill="#fff" stroke="#000" stroke-width="2.08"/><path d="M0 -1.6L1.7 0L0 1.6L-1.7 0Z" fill="#000"/></g>
<g transform="translate(345.3,424.5) scale(0.4)"><path d="M-4.4 -4.4L4.4 4.4M-4.4 4.4L4.4 -4.4" stroke="#000" stroke-width="3.23" stroke-linecap="butt" fill="none"/><path d="M0 -4.9V4.9" stroke="#000" stroke-width="3.23" stroke-linecap="butt" fill="none"/></g>
<g transform="translate(311,435.4) scale(1.0)"><path d="M-3.4 0H3.4M0 -3.4V3.4" stroke="#000" stroke-width="2.1" fill="none"/></g>
<g transform="translate(316.9,435.7) scale(0.65)"><rect x="-3.5" y="-3.5" width="7.0" height="7.0" fill="#fff" stroke="#707070" stroke-width="3.3"/></g>
<g transform="translate(272.5,447.5) scale(0.65)"><rect x="-4.9" y="-2.1" width="9.8" height="4.2" rx="2.1" fill="#4a4a4a" stroke="#000" stroke-width="2.41"/></g>
<g transform="translate(291.5,447.5) scale(0.65)"><rect x="-3.5" y="-3.5" width="7.0" height="7.0" fill="#fff" stroke="#707070" stroke-width="3.3"/></g>
<g transform="translate(439.2,414.4) scale(0.5)"><path d="M0 -5.0L5.5 0L0 5.0L-5.5 0Z" fill="#000"/></g>
<g transform="translate(445.4,414.8) scale(0.9)"><path d="M-4.0 -4.0L4.0 4.0M-4.0 4.0L4.0 -4.0" stroke="#999" stroke-width="2.12" stroke-linecap="butt" fill="none"/></g>
<g transform="translate(461.3,399.7) scale(0.5)"><path d="M-4.4 -4.4L4.4 4.4M-4.4 4.4L4.4 -4.4" stroke="#000" stroke-width="2.85" stroke-linecap="butt" fill="none"/><path d="M0 -4.9V4.9" stroke="#000" stroke-width="2.85" stroke-linecap="butt" fill="none"/></g>
<g transform="translate(481.9,393.5) scale(0.5)"><path d="M-4.4 -4.4L4.4 4.4M-4.4 4.4L4.4 -4.4" stroke="#000" stroke-width="2.85" stroke-linecap="butt" fill="none"/><path d="M0 -4.9V4.9" stroke="#000" stroke-width="2.85" stroke-linecap="butt" fill="none"/></g>
<g transform="translate(492.7,391) scale(0.5)"><path d="M-4.6 -4.6L4.6 4.6M-4.6 4.6L4.6 -4.6" stroke="#000" stroke-width="2.34" stroke-linecap="butt" fill="none"/></g>
<g transform="translate(502.8,393.9) scale(0.5)"><path d="M-4.4 -4.4L4.4 4.4M-4.4 4.4L4.4 -4.4" stroke="#000" stroke-width="2.85" stroke-linecap="butt" fill="none"/><path d="M0 -4.9V4.9" stroke="#000" stroke-width="2.85" stroke-linecap="butt" fill="none"/></g>
<g transform="translate(508.6,387) scale(0.9)"><path d="M-4.0 -4.0L4.0 4.0M-4.0 4.0L4.0 -4.0" stroke="#999" stroke-width="2.12" stroke-linecap="butt" fill="none"/></g>
<g transform="translate(486.9,399.7) scale(0.5)"><path d="M0 -5.0L5.5 0L0 5.0L-5.5 0Z" fill="#000"/></g>
<g transform="translate(513.1,401) scale(0.65)"><path d="M0 -4.8L5.1 4.8L-5.1 4.8Z" fill="#7f7f7f"/></g>
<g transform="translate(471,409.4) scale(0.9)"><path d="M-4.0 -4.0L4.0 4.0M-4.0 4.0L4.0 -4.0" stroke="#999" stroke-width="2.12" stroke-linecap="butt" fill="none"/></g>
<g transform="translate(460.9,414.8) scale(0.45)"><circle cx="0" cy="0" r="4.3" fill="#000"/></g>
<g transform="translate(465.6,414.8) scale(0.4)"><circle cx="0" cy="0" r="4.4" fill="#fff" stroke="#000" stroke-width="2.65"/></g>
<g transform="translate(485.7,414.8) scale(0.5)"><path d="M-5.637289980742906 -4.1L2.562710019257093 4.1M-5.637289980742906 4.1L2.562710019257093 -4.1" stroke="#000" stroke-width="2.49" stroke-linecap="butt" fill="none"/><path d="M-2.562710019257093 -4.1L5.637289980742906 4.1M-2.562710019257093 4.1L5.637289980742906 -4.1" stroke="#000" stroke-width="2.49" stroke-linecap="butt" fill="none"/></g>
<g transform="translate(493.1,414.8) scale(0.45)"><rect x="-4.6" y="-4.6" width="9.2" height="9.2" fill="#282828"/></g>
<g transform="translate(499.8,414.8) scale(0.6)"><rect x="-4.6" y="-4.6" width="9.2" height="9.2" fill="#000"/></g>
<g transform="translate(512,414.8) scale(0.5)"><path d="M-5.637289980742906 -4.1L2.562710019257093 4.1M-5.637289980742906 4.1L2.562710019257093 -4.1" stroke="#000" stroke-width="2.49" stroke-linecap="butt" fill="none"/><path d="M-2.562710019257093 -4.1L5.637289980742906 4.1M-2.562710019257093 4.1L5.637289980742906 -4.1" stroke="#000" stroke-width="2.49" stroke-linecap="butt" fill="none"/></g>
<g transform="translate(471,420.8) scale(0.45)"><circle cx="0" cy="0" r="4.3" fill="#000"/></g>
<g transform="translate(461.8,423.1) scale(0.8)"><path d="M-3.9 -3.9L3.9 3.9M-3.9 3.9L3.9 -3.9" stroke="#000" stroke-width="2.9" stroke-linecap="butt" fill="none"/></g>
<g transform="translate(456.4,425.8) scale(1.0)"><rect x="-3.3" y="-1.6" width="6.6" height="3.2" rx="0.9" fill="#fff" stroke="#000" stroke-width="1.2"/></g>
<g transform="translate(458.4,429.2) scale(0.5)"><rect x="-4.6" y="-4.6" width="9.2" height="9.2" fill="#000"/></g>
<g transform="translate(463.8,429.8) scale(0.6)"><path d="M0 -4.8L5.1 4.8L-5.1 4.8Z" fill="#7f7f7f"/></g>
<g transform="translate(501.4,429.2) scale(0.5)"><rect x="-4.7" y="-2.9" width="9.4" height="5.8" rx="1.8" fill="#999"/></g>
<g transform="translate(476.8,440.9) scale(0.65)"><rect x="-3.5" y="-3.5" width="7.0" height="7.0" fill="#fff" stroke="#707070" stroke-width="3.3"/></g>
<g transform="translate(450.4,444.1) scale(0.45)"><rect x="-4.6" y="-4.6" width="9.2" height="9.2" fill="#282828"/></g>
<g transform="translate(436.3,441) scale(0.5)"><rect x="-4.6" y="-4.6" width="9.2" height="9.2" fill="#000"/></g>
<g transform="translate(436.3,445.5) scale(0.5)"><rect x="-4.6" y="-4.6" width="9.2" height="9.2" fill="#000"/></g>
<g transform="translate(428.7,452.6) scale(0.55)"><rect x="-4.6" y="-4.6" width="9.2" height="9.2" fill="#000"/></g>
<g transform="translate(428.7,458.3) scale(0.5)"><rect x="-4.6" y="-4.6" width="9.2" height="9.2" fill="#282828"/></g>
<g transform="translate(435.8,458.8) scale(0.65)"><rect x="-3.5" y="-3.5" width="7.0" height="7.0" fill="#fff" stroke="#707070" stroke-width="3.3"/></g>
<g transform="translate(439.2,430) scale(0.4)"><path d="M0 -3.9L4.1 3.9L-4.1 3.9Z" fill="#fff" stroke="#000" stroke-width="2.65"/></g>
<g transform="translate(586.7,305.4) scale(1.0)"><rect x="-2.6" y="-2.6" width="5.2" height="5.2" rx="1.3" fill="#aaa" stroke="#000" stroke-width="1.7"/><path d="M-1.6 -1.6L1.6 1.6M-1.6 1.6L1.6 -1.6" stroke="#fff" stroke-width="0.9"/></g>
<g transform="translate(558.6,341) scale(0.65)"><path d="M0 -3.9L4.1 3.9L-4.1 3.9Z" fill="#fff" stroke="#000" stroke-width="2.03"/></g>
<g transform="translate(586.7,341) scale(0.65)"><path d="M0 -3.9L4.1 3.9L-4.1 3.9Z" fill="#fff" stroke="#000" stroke-width="2.03"/></g>
<g transform="translate(600.4,341) scale(0.65)"><path d="M0 -3.9L4.1 3.9L-4.1 3.9Z" fill="#fff" stroke="#000" stroke-width="2.03"/></g>
<g transform="translate(620.1,341) scale(0.65)"><path d="M0 -3.9L4.1 3.9L-4.1 3.9Z" fill="#fff" stroke="#000" stroke-width="2.03"/></g>
<g transform="translate(593.7,347.2) scale(0.75)"><rect x="-3.8" y="-2.2" width="7.6" height="4.4" rx="1.8" fill="#000"/></g>
<g transform="translate(557.7,355.6) scale(0.72)"><path d="M0 -4.2L1.6 -1.6L4.2 0L1.6 1.6L0 4.2L-1.6 1.6L-4.2 0L-1.6 -1.6Z" fill="#000"/></g>
<g transform="translate(591.5,355.3) scale(0.5)"><path d="M-4.4 -4.4L4.4 4.4M-4.4 4.4L4.4 -4.4" stroke="#000" stroke-width="2.85" stroke-linecap="butt" fill="none"/><path d="M0 -4.9V4.9" stroke="#000" stroke-width="2.85" stroke-linecap="butt" fill="none"/></g>
<g transform="translate(554.4,361.9) scale(0.75)"><rect x="-3.8" y="-2.2" width="7.6" height="4.4" rx="1.8" fill="#000"/></g>
<g transform="translate(516.2,370.8) scale(0.75)"><rect x="-3.8" y="-2.2" width="7.6" height="4.4" rx="1.8" fill="#000"/></g>
<g transform="translate(533.5,370.8) scale(0.5)"><path d="M-4.6 -4.6L4.6 4.6M-4.6 4.6L4.6 -4.6" stroke="#000" stroke-width="2.34" stroke-linecap="butt" fill="none"/></g>
<g transform="translate(590.3,370.6) scale(0.5)"><path d="M0 -5.0L5.5 0L0 5.0L-5.5 0Z" fill="#000"/></g>
<g transform="translate(613.4,370.8) scale(0.9)"><circle cx="0" cy="0" r="3.3" fill="#fff" stroke="#999" stroke-width="2.44"/></g>
<g transform="translate(619.6,370.8) scale(0.7)"><path d="M0 -4.8L5.4 0L0 4.8L-5.4 0Z" fill="#7f7f7f"/></g>
<g transform="translate(506.7,379) scale(0.5)"><path d="M0 -5.0L5.5 0L0 5.0L-5.5 0Z" fill="#000"/></g>
<g transform="translate(533.5,385.4) scale(0.9)"><path d="M-4.0 -4.0L4.0 4.0M-4.0 4.0L4.0 -4.0" stroke="#999" stroke-width="2.12" stroke-linecap="butt" fill="none"/></g>
<g transform="translate(501.7,394.1) scale(0.5)"><path d="M-4.4 -4.4L4.4 4.4M-4.4 4.4L4.4 -4.4" stroke="#000" stroke-width="2.85" stroke-linecap="butt" fill="none"/><path d="M0 -4.9V4.9" stroke="#000" stroke-width="2.85" stroke-linecap="butt" fill="none"/></g>
<g transform="translate(554,393.7) scale(0.6)"><rect x="-3.9" y="-3.9" width="7.8" height="7.8" fill="#fff" stroke="#000" stroke-width="2.12"/></g>
<g transform="translate(562.2,394.1) scale(0.5)"><path d="M-5.637289980742906 -4.1L2.562710019257093 4.1M-5.637289980742906 4.1L2.562710019257093 -4.1" stroke="#000" stroke-width="2.49" stroke-linecap="butt" fill="none"/><path d="M-2.562710019257093 -4.1L5.637289980742906 4.1M-2.562710019257093 4.1L5.637289980742906 -4.1" stroke="#000" stroke-width="2.49" stroke-linecap="butt" fill="none"/></g>
<g transform="translate(573.1,391.2) scale(1.0)"><rect x="-1.9" y="-0.75" width="3.8" height="1.5" rx="0.4" fill="#000"/></g>
<g transform="translate(604.9,385) scale(1.0)"><rect x="-1.9" y="-0.75" width="3.8" height="1.5" rx="0.4" fill="#000"/></g>
<g transform="translate(533.5,399.6) scale(1.0)"><rect x="-1.9" y="-0.75" width="3.8" height="1.5" rx="0.4" fill="#000"/></g>
<g transform="translate(578.6,402.5) scale(0.6)"><rect x="-4.6" y="-4.6" width="9.2" height="9.2" fill="#000"/></g>
<g transform="translate(623,385) scale(0.5)"><rect x="-1.9" y="-1.9" width="3.8" height="3.8" rx="0.6" fill="#000" transform="translate(0.3,-3.2) rotate(35)"/><rect x="-1.9" y="-1.9" width="3.8" height="3.8" rx="0.6" fill="#000" transform="translate(-3.0,-0.2) rotate(30)"/><rect x="-1.9" y="-1.9" width="3.8" height="3.8" rx="0.6" fill="#000" transform="translate(-2.4,3.0) rotate(5)"/><rect x="-1.9" y="-1.9" width="3.8" height="3.8" rx="0.6" fill="#000" transform="translate(3.4,2.6) rotate(35)"/></g>
<g transform="translate(621.8,390.4) scale(0.6)"><rect x="-4.6" y="-4.6" width="9.2" height="9.2" fill="#000"/></g>
<g transform="translate(558.6,417.3) scale(0.65)"><rect x="-3.5" y="-3.5" width="7.0" height="7.0" fill="#fff" stroke="#707070" stroke-width="3.3"/></g>
<g transform="translate(599,414.4) scale(0.5)"><rect x="-4.7" y="-2.9" width="9.4" height="5.8" rx="1.8" fill="#999"/></g>
<g transform="translate(629.3,423.1) scale(1.0)"><path d="M-3.4 0H3.4M0 -3.4V3.4" stroke="#000" stroke-width="2.1" fill="none"/></g>
<g transform="translate(678.2,305.6) scale(0.5)"><circle cx="0" cy="0" r="4.4" fill="#fff" stroke="#000" stroke-width="2.34"/></g>
<g transform="translate(678.2,320.1) scale(1.0)"><circle cx="0" cy="0" r="2.1" fill="#888" stroke="#000" stroke-width="1.3"/></g>
<g transform="translate(634.2,326.8) scale(0.55)"><path d="M0 -4.8L5.3 4.8L-5.3 4.8Z" fill="#000"/></g>
<g transform="translate(685.4,329.2) scale(0.7)"><rect x="-3.8" y="-2.2" width="7.6" height="4.4" rx="1.8" fill="#000"/></g>
<g transform="translate(683.2,331.6) scale(0.4)"><path d="M0 -5.0L5.5 0L0 5.0L-5.5 0Z" fill="#000"/></g>
<g transform="translate(727.9,326.5) scale(0.7)"><rect x="-3.8" y="-2.2" width="7.6" height="4.4" rx="1.8" fill="#000"/></g>
<g transform="translate(732,326.5) scale(0.75)"><path d="M0 -4.4L4.7 4.4L-4.7 4.4Z" fill="#fff" stroke="#000" stroke-width="1.52"/><path d="M0 -0.9L1.9 2.7H-1.9Z" fill="#fff" stroke="#000" stroke-width="0.9"/></g>
<g transform="translate(688.2,341) scale(0.55)"><path d="M-4 -1.3C-4.4 -6 4.4 -6 4 -1.3Z" fill="#000"/><path d="M-5.3 2.4L-2.6 -0.4H2.6L5.3 2.4L3.9 4.7H-3.9Z" fill="#000"/><path d="M-2.9 -0.9Q0 1.9 2.9 -0.9" stroke="#fff" stroke-width="1.3" fill="none"/><path d="M-2 4.7Q0 2.4 2 4.7Z" fill="#fff"/></g>
<g transform="translate(710.3,340.5) scale(1.0)"><rect x="-5.7" y="-1.7" width="11.4" height="3.4" rx="0.8" fill="#fff" stroke="#000" stroke-width="1.2"/></g>
<g transform="translate(720.8,340.5) scale(0.45)"><circle cx="0" cy="0" r="4.3" fill="#000"/></g>
<g transform="translate(712.5,352.7) scale(0.55)"><rect x="-4.6" y="-4.6" width="9.2" height="9.2" fill="#000"/></g>
<g transform="translate(720,352.7) scale(1.0)"><rect x="-3.9" y="-3.9" width="7.8" height="7.8" fill="#8a8a8a"/><path d="M-3.9 0H3.9M0 -3.9V3.9" stroke="#111" stroke-width="1.9"/></g>
<g transform="translate(729.5,349.4) scale(0.5)"><rect x="-4.6" y="-4.6" width="9.2" height="9.2" fill="#282828"/></g>
<g transform="translate(707.3,355.8) scale(0.9)"><circle cx="0" cy="0" r="3.3" fill="#fff" stroke="#999" stroke-width="2.44"/></g>
<g transform="translate(660.1,358.9) scale(0.55)"><path d="M-4 -1.3C-4.4 -6 4.4 -6 4 -1.3Z" fill="#000"/><path d="M-5.3 2.4L-2.6 -0.4H2.6L5.3 2.4L3.9 4.7H-3.9Z" fill="#000"/><path d="M-2.9 -0.9Q0 1.9 2.9 -0.9" stroke="#fff" stroke-width="1.3" fill="none"/><path d="M-2 4.7Q0 2.4 2 4.7Z" fill="#fff"/></g>
<g transform="translate(692.2,361.9) scale(0.6)"><rect x="-4.9" y="-2.1" width="9.8" height="4.2" rx="2.1" fill="#4a4a4a" stroke="#000" stroke-width="2.52"/></g>
<g transform="translate(710.6,364.8) scale(0.55)"><path d="M0 -4.6L5.0 0L0 4.6L-5.0 0Z" fill="#fff" stroke="#000" stroke-width="2.08"/><path d="M0 -1.6L1.7 0L0 1.6L-1.7 0Z" fill="#000"/></g>
<g transform="translate(731.6,360.5) scale(0.6)"><rect x="-3.9" y="-3.9" width="7.8" height="7.8" fill="#fff" stroke="#000" stroke-width="2.12"/></g>
<g transform="translate(730.9,364.8) scale(0.55)"><path d="M0 -4.6L5.0 0L0 4.6L-5.0 0Z" fill="#fff" stroke="#000" stroke-width="2.08"/><path d="M0 -1.6L1.7 0L0 1.6L-1.7 0Z" fill="#000"/></g>
<g transform="translate(643.9,370.8) scale(0.6)"><rect x="-3.9" y="-3.9" width="7.8" height="7.8" fill="#fff" stroke="#000" stroke-width="2.12"/></g>
<g transform="translate(673.8,370.8) scale(0.6)"><rect x="-4.6" y="-4.6" width="9.2" height="9.2" fill="#000"/></g>
<g transform="translate(704.5,370.5) scale(0.9)"><rect x="-4.7" y="-1.3" width="9.4" height="2.6" rx="0.7" fill="#000"/></g>
<g transform="translate(734.1,370.5) scale(0.55)"><path d="M-5.558780065098297 -4.1L2.6412199349017023 4.1M-5.558780065098297 4.1L2.6412199349017023 -4.1" stroke="#000" stroke-width="2.36" stroke-linecap="butt" fill="none"/><path d="M-2.6412199349017023 -4.1L5.558780065098297 4.1M-2.6412199349017023 4.1L5.558780065098297 -4.1" stroke="#000" stroke-width="2.36" stroke-linecap="butt" fill="none"/></g>
<g transform="translate(651.2,385) scale(0.6)"><rect x="-4.7" y="-1.3" width="9.4" height="2.6" rx="0.7" fill="#000"/></g>
<g transform="translate(731.6,385.4) scale(0.6)"><rect x="-4.9" y="-2.1" width="9.8" height="4.2" rx="2.1" fill="#4a4a4a" stroke="#000" stroke-width="2.52"/></g>
<g transform="translate(699.9,393.6) scale(1.0)"><path d="M-3.4 0H3.4M0 -3.4V3.4" stroke="#000" stroke-width="2.1" fill="none"/></g>
<g transform="translate(705.3,399.7) scale(0.65)"><rect x="-3.5" y="-3.5" width="7.0" height="7.0" fill="#fff" stroke="#707070" stroke-width="3.3"/></g>
<g transform="translate(660.5,423.1) scale(0.65)"><rect x="-4.9" y="-2.1" width="9.8" height="4.2" rx="2.1" fill="#4a4a4a" stroke="#000" stroke-width="2.41"/></g>
<g transform="translate(680.5,420.8) scale(0.65)"><rect x="-3.5" y="-3.5" width="7.0" height="7.0" fill="#fff" stroke="#707070" stroke-width="3.3"/></g>
<text transform="translate(28.3,221.05) scale(1.1,1)" font-size="10.5" text-anchor="end" font-weight="normal" fill="#000" stroke="#000" stroke-width="0.4" >0</text>
<text transform="translate(28.3,203.85) scale(1.1,1)" font-size="10.5" text-anchor="end" font-weight="normal" fill="#000" stroke="#000" stroke-width="0.4" >5</text>
<text transform="translate(28.3,186.66) scale(1.1,1)" font-size="10.5" text-anchor="end" font-weight="normal" fill="#000" stroke="#000" stroke-width="0.4" >10</text>
<text transform="translate(28.3,169.46) scale(1.1,1)" font-size="10.5" text-anchor="end" font-weight="normal" fill="#000" stroke="#000" stroke-width="0.4" >15</text>
<text transform="translate(28.3,152.27) scale(1.1,1)" font-size="10.5" text-anchor="end" font-weight="normal" fill="#000" stroke="#000" stroke-width="0.4" >20</text>
<text transform="translate(28.3,135.07) scale(1.1,1)" font-size="10.5" text-anchor="end" font-weight="normal" fill="#000" stroke="#000" stroke-width="0.4" >25</text>
<text transform="translate(28.3,117.88) scale(1.1,1)" font-size="10.5" text-anchor="end" font-weight="normal" fill="#000" stroke="#000" stroke-width="0.4" >30</text>
<text transform="translate(28.3,100.68) scale(1.1,1)" font-size="10.5" text-anchor="end" font-weight="normal" fill="#000" stroke="#000" stroke-width="0.4" >35</text>
<text transform="translate(28.3,83.48) scale(1.1,1)" font-size="10.5" text-anchor="end" font-weight="normal" fill="#000" stroke="#000" stroke-width="0.4" >40</text>
<text transform="translate(28.3,66.29) scale(1.1,1)" font-size="10.5" text-anchor="end" font-weight="normal" fill="#000" stroke="#000" stroke-width="0.4" >45</text>
<text transform="translate(28.3,49.09) scale(1.1,1)" font-size="10.5" text-anchor="end" font-weight="normal" fill="#000" stroke="#000" stroke-width="0.4" >50</text>
<text transform="translate(28.3,31.9) scale(1.1,1)" font-size="10.5" text-anchor="end" font-weight="normal" fill="#000" stroke="#000" stroke-width="0.4" >55</text>
<text transform="translate(28.3,14.7) scale(1.1,1)" font-size="10.5" text-anchor="end" font-weight="normal" fill="#000" stroke="#000" stroke-width="0.4" >60</text>
<text transform="translate(59.55,235.6) scale(1.06,1)" font-size="10.6" text-anchor="middle" font-weight="normal" fill="#000" stroke="#000" stroke-width="0.4" >1</text>
<text transform="translate(79.7,235.6) scale(1.06,1)" font-size="10.6" text-anchor="middle" font-weight="normal" fill="#000" stroke="#000" stroke-width="0.4" >2</text>
<text transform="translate(99.85,235.6) scale(1.06,1)" font-size="10.6" text-anchor="middle" font-weight="normal" fill="#000" stroke="#000" stroke-width="0.4" >3</text>
<text transform="translate(120,235.6) scale(1.06,1)" font-size="10.6" text-anchor="middle" font-weight="normal" fill="#000" stroke="#000" stroke-width="0.4" >4</text>
<text transform="translate(140.15,235.6) scale(1.06,1)" font-size="10.6" text-anchor="middle" font-weight="normal" fill="#000" stroke="#000" stroke-width="0.4" >5</text>
<text transform="translate(160.3,235.6) scale(1.06,1)" font-size="10.6" text-anchor="middle" font-weight="normal" fill="#000" stroke="#000" stroke-width="0.4" >6</text>
<text transform="translate(180.45,235.6) scale(1.06,1)" font-size="10.6" text-anchor="middle" font-weight="normal" fill="#000" stroke="#000" stroke-width="0.4" >7</text>
<text transform="translate(200.6,235.6) scale(1.06,1)" font-size="10.6" text-anchor="middle" font-weight="normal" fill="#000" stroke="#000" stroke-width="0.4" >8</text>
<text transform="translate(220.75,235.6) scale(1.06,1)" font-size="10.6" text-anchor="middle" font-weight="normal" fill="#000" stroke="#000" stroke-width="0.4" >9</text>
<text transform="translate(240.9,235.6) scale(1.06,1)" font-size="10.6" text-anchor="middle" font-weight="normal" fill="#000" stroke="#000" stroke-width="0.4" >10</text>
<text transform="translate(261.05,235.6) scale(1.06,1)" font-size="10.6" text-anchor="middle" font-weight="normal" fill="#000" stroke="#000" stroke-width="0.4" >11</text>
<text transform="translate(281.2,235.6) scale(1.06,1)" font-size="10.6" text-anchor="middle" font-weight="normal" fill="#000" stroke="#000" stroke-width="0.4" >12</text>
<text transform="translate(301.35,235.6) scale(1.06,1)" font-size="10.6" text-anchor="middle" font-weight="normal" fill="#000" stroke="#000" stroke-width="0.4" >13</text>
<text transform="translate(321.5,235.6) scale(1.06,1)" font-size="10.6" text-anchor="middle" font-weight="normal" fill="#000" stroke="#000" stroke-width="0.4" >14</text>
<text transform="translate(341.65,235.6) scale(1.06,1)" font-size="10.6" text-anchor="middle" font-weight="normal" fill="#000" stroke="#000" stroke-width="0.4" >15</text>
<text transform="translate(361.8,235.6) scale(1.06,1)" font-size="10.6" text-anchor="middle" font-weight="normal" fill="#000" stroke="#000" stroke-width="0.4" >16</text>
<text transform="translate(415,220.9) scale(1.1,1)" font-size="10.5" text-anchor="end" font-weight="normal" fill="#000" stroke="#000" stroke-width="0.4" >0</text>
<text transform="translate(415,203.76) scale(1.1,1)" font-size="10.5" text-anchor="end" font-weight="normal" fill="#000" stroke="#000" stroke-width="0.4" >5</text>
<text transform="translate(415,186.62) scale(1.1,1)" font-size="10.5" text-anchor="end" font-weight="normal" fill="#000" stroke="#000" stroke-width="0.4" >10</text>
<text transform="translate(415,169.48) scale(1.1,1)" font-size="10.5" text-anchor="end" font-weight="normal" fill="#000" stroke="#000" stroke-width="0.4" >15</text>
<text transform="translate(415,152.33) scale(1.1,1)" font-size="10.5" text-anchor="end" font-weight="normal" fill="#000" stroke="#000" stroke-width="0.4" >20</text>
<text transform="translate(415,135.19) scale(1.1,1)" font-size="10.5" text-anchor="end" font-weight="normal" fill="#000" stroke="#000" stroke-width="0.4" >25</text>
<text transform="translate(415,118.05) scale(1.1,1)" font-size="10.5" text-anchor="end" font-weight="normal" fill="#000" stroke="#000" stroke-width="0.4" >30</text>
<text transform="translate(415,100.91) scale(1.1,1)" font-size="10.5" text-anchor="end" font-weight="normal" fill="#000" stroke="#000" stroke-width="0.4" >35</text>
<text transform="translate(415,83.77) scale(1.1,1)" font-size="10.5" text-anchor="end" font-weight="normal" fill="#000" stroke="#000" stroke-width="0.4" >40</text>
<text transform="translate(415,66.62) scale(1.1,1)" font-size="10.5" text-anchor="end" font-weight="normal" fill="#000" stroke="#000" stroke-width="0.4" >45</text>
<text transform="translate(415,49.48) scale(1.1,1)" font-size="10.5" text-anchor="end" font-weight="normal" fill="#000" stroke="#000" stroke-width="0.4" >50</text>
<text transform="translate(415,32.34) scale(1.1,1)" font-size="10.5" text-anchor="end" font-weight="normal" fill="#000" stroke="#000" stroke-width="0.4" >55</text>
<text transform="translate(415,15.2) scale(1.1,1)" font-size="10.5" text-anchor="end" font-weight="normal" fill="#000" stroke="#000" stroke-width="0.4" >60</text>
<text transform="translate(426.8,235.6) scale(1.06,1)" font-size="10.6" text-anchor="middle" font-weight="normal" fill="#000" stroke="#000" stroke-width="0.4" >0</text>
<text transform="translate(448.34,235.6) scale(1.06,1)" font-size="10.6" text-anchor="middle" font-weight="normal" fill="#000" stroke="#000" stroke-width="0.4" >1</text>
<text transform="translate(469.88,235.6) scale(1.06,1)" font-size="10.6" text-anchor="middle" font-weight="normal" fill="#000" stroke="#000" stroke-width="0.4" >2</text>
<text transform="translate(491.41,235.6) scale(1.06,1)" font-size="10.6" text-anchor="middle" font-weight="normal" fill="#000" stroke="#000" stroke-width="0.4" >3</text>
<text transform="translate(512.95,235.6) scale(1.06,1)" font-size="10.6" text-anchor="middle" font-weight="normal" fill="#000" stroke="#000" stroke-width="0.4" >4</text>
<text transform="translate(534.49,235.6) scale(1.06,1)" font-size="10.6" text-anchor="middle" font-weight="normal" fill="#000" stroke="#000" stroke-width="0.4" >5</text>
<text transform="translate(556.02,235.6) scale(1.06,1)" font-size="10.6" text-anchor="middle" font-weight="normal" fill="#000" stroke="#000" stroke-width="0.4" >6</text>
<text transform="translate(577.56,235.6) scale(1.06,1)" font-size="10.6" text-anchor="middle" font-weight="normal" fill="#000" stroke="#000" stroke-width="0.4" >7</text>
<text transform="translate(599.1,235.6) scale(1.06,1)" font-size="10.6" text-anchor="middle" font-weight="normal" fill="#000" stroke="#000" stroke-width="0.4" >8</text>
<text transform="translate(620.64,235.6) scale(1.06,1)" font-size="10.6" text-anchor="middle" font-weight="normal" fill="#000" stroke="#000" stroke-width="0.4" >9</text>
<text transform="translate(642.17,235.6) scale(1.06,1)" font-size="10.6" text-anchor="middle" font-weight="normal" fill="#000" stroke="#000" stroke-width="0.4" >10</text>
<text transform="translate(663.71,235.6) scale(1.06,1)" font-size="10.6" text-anchor="middle" font-weight="normal" fill="#000" stroke="#000" stroke-width="0.4" >11</text>
<text transform="translate(685.25,235.6) scale(1.06,1)" font-size="10.6" text-anchor="middle" font-weight="normal" fill="#000" stroke="#000" stroke-width="0.4" >12</text>
<text transform="translate(706.79,235.6) scale(1.06,1)" font-size="10.6" text-anchor="middle" font-weight="normal" fill="#000" stroke="#000" stroke-width="0.4" >13</text>
<text transform="translate(728.33,235.6) scale(1.06,1)" font-size="10.6" text-anchor="middle" font-weight="normal" fill="#000" stroke="#000" stroke-width="0.4" >14</text>
<text transform="translate(749.86,235.6) scale(1.06,1)" font-size="10.6" text-anchor="middle" font-weight="normal" fill="#000" stroke="#000" stroke-width="0.4" >15</text>
<text transform="translate(771.4,235.6) scale(1.06,1)" font-size="10.6" text-anchor="middle" font-weight="normal" fill="#000" stroke="#000" stroke-width="0.4" >16</text>
<text transform="translate(28.3,492.1) scale(1.1,1)" font-size="10.5" text-anchor="end" font-weight="normal" fill="#000" stroke="#000" stroke-width="0.4" >0</text>
<text transform="translate(28.3,462.71) scale(1.1,1)" font-size="10.5" text-anchor="end" font-weight="normal" fill="#000" stroke="#000" stroke-width="0.4" >5</text>
<text transform="translate(28.3,433.33) scale(1.1,1)" font-size="10.5" text-anchor="end" font-weight="normal" fill="#000" stroke="#000" stroke-width="0.4" >10</text>
<text transform="translate(28.3,403.94) scale(1.1,1)" font-size="10.5" text-anchor="end" font-weight="normal" fill="#000" stroke="#000" stroke-width="0.4" >15</text>
<text transform="translate(28.3,374.56) scale(1.1,1)" font-size="10.5" text-anchor="end" font-weight="normal" fill="#000" stroke="#000" stroke-width="0.4" >20</text>
<text transform="translate(28.3,345.17) scale(1.1,1)" font-size="10.5" text-anchor="end" font-weight="normal" fill="#000" stroke="#000" stroke-width="0.4" >25</text>
<text transform="translate(28.3,315.79) scale(1.1,1)" font-size="10.5" text-anchor="end" font-weight="normal" fill="#000" stroke="#000" stroke-width="0.4" >30</text>
<text transform="translate(28.3,286.4) scale(1.1,1)" font-size="10.5" text-anchor="end" font-weight="normal" fill="#000" stroke="#000" stroke-width="0.4" >35</text>
<text transform="translate(58.75,507.6) scale(1.06,1)" font-size="10.6" text-anchor="middle" font-weight="normal" fill="#000" stroke="#000" stroke-width="0.4" >1</text>
<text transform="translate(79,507.6) scale(1.06,1)" font-size="10.6" text-anchor="middle" font-weight="normal" fill="#000" stroke="#000" stroke-width="0.4" >2</text>
<text transform="translate(99.25,507.6) scale(1.06,1)" font-size="10.6" text-anchor="middle" font-weight="normal" fill="#000" stroke="#000" stroke-width="0.4" >3</text>
<text transform="translate(119.5,507.6) scale(1.06,1)" font-size="10.6" text-anchor="middle" font-weight="normal" fill="#000" stroke="#000" stroke-width="0.4" >4</text>
<text transform="translate(139.75,507.6) scale(1.06,1)" font-size="10.6" text-anchor="middle" font-weight="normal" fill="#000" stroke="#000" stroke-width="0.4" >5</text>
<text transform="translate(160,507.6) scale(1.06,1)" font-size="10.6" text-anchor="middle" font-weight="normal" fill="#000" stroke="#000" stroke-width="0.4" >6</text>
<text transform="translate(180.25,507.6) scale(1.06,1)" font-size="10.6" text-anchor="middle" font-weight="normal" fill="#000" stroke="#000" stroke-width="0.4" >7</text>
<text transform="translate(200.5,507.6) scale(1.06,1)" font-size="10.6" text-anchor="middle" font-weight="normal" fill="#000" stroke="#000" stroke-width="0.4" >8</text>
<text transform="translate(220.75,507.6) scale(1.06,1)" font-size="10.6" text-anchor="middle" font-weight="normal" fill="#000" stroke="#000" stroke-width="0.4" >9</text>
<text transform="translate(241,507.6) scale(1.06,1)" font-size="10.6" text-anchor="middle" font-weight="normal" fill="#000" stroke="#000" stroke-width="0.4" >10</text>
<text transform="translate(261.25,507.6) scale(1.06,1)" font-size="10.6" text-anchor="middle" font-weight="normal" fill="#000" stroke="#000" stroke-width="0.4" >11</text>
<text transform="translate(281.5,507.6) scale(1.06,1)" font-size="10.6" text-anchor="middle" font-weight="normal" fill="#000" stroke="#000" stroke-width="0.4" >12</text>
<text transform="translate(301.75,507.6) scale(1.06,1)" font-size="10.6" text-anchor="middle" font-weight="normal" fill="#000" stroke="#000" stroke-width="0.4" >13</text>
<text transform="translate(322,507.6) scale(1.06,1)" font-size="10.6" text-anchor="middle" font-weight="normal" fill="#000" stroke="#000" stroke-width="0.4" >14</text>
<text transform="translate(342.25,507.6) scale(1.06,1)" font-size="10.6" text-anchor="middle" font-weight="normal" fill="#000" stroke="#000" stroke-width="0.4" >15</text>
<text transform="translate(362.5,507.6) scale(1.06,1)" font-size="10.6" text-anchor="middle" font-weight="normal" fill="#000" stroke="#000" stroke-width="0.4" >16</text>
<text transform="translate(37.6,507.6) scale(1.06,1)" font-size="10.6" text-anchor="middle" font-weight="normal" fill="#000" stroke="#000" stroke-width="0.4" >0</text>
<text transform="translate(39.4,507.6) scale(1.06,1)" font-size="10.6" text-anchor="middle" font-weight="normal" fill="#000" stroke="#000" stroke-width="0.4" >0</text>
<text transform="translate(415,492) scale(1.1,1)" font-size="10.5" text-anchor="end" font-weight="normal" fill="#000" stroke="#000" stroke-width="0.4" >0</text>
<text transform="translate(415,462.63) scale(1.1,1)" font-size="10.5" text-anchor="end" font-weight="normal" fill="#000" stroke="#000" stroke-width="0.4" >1</text>
<text transform="translate(415,433.26) scale(1.1,1)" font-size="10.5" text-anchor="end" font-weight="normal" fill="#000" stroke="#000" stroke-width="0.4" >2</text>
<text transform="translate(415,403.89) scale(1.1,1)" font-size="10.5" text-anchor="end" font-weight="normal" fill="#000" stroke="#000" stroke-width="0.4" >3</text>
<text transform="translate(415,374.51) scale(1.1,1)" font-size="10.5" text-anchor="end" font-weight="normal" fill="#000" stroke="#000" stroke-width="0.4" >4</text>
<text transform="translate(415,345.14) scale(1.1,1)" font-size="10.5" text-anchor="end" font-weight="normal" fill="#000" stroke="#000" stroke-width="0.4" >5</text>
<text transform="translate(415,315.77) scale(1.1,1)" font-size="10.5" text-anchor="end" font-weight="normal" fill="#000" stroke="#000" stroke-width="0.4" >6</text>
<text transform="translate(415,286.4) scale(1.1,1)" font-size="10.5" text-anchor="end" font-weight="normal" fill="#000" stroke="#000" stroke-width="0.4" >7</text>
<text transform="translate(426.6,507.6) scale(1.06,1)" font-size="10.6" text-anchor="middle" font-weight="normal" fill="#000" stroke="#000" stroke-width="0.4" >0</text>
<text transform="translate(446.88,507.6) scale(1.06,1)" font-size="10.6" text-anchor="middle" font-weight="normal" fill="#000" stroke="#000" stroke-width="0.4" >1</text>
<text transform="translate(467.15,507.6) scale(1.06,1)" font-size="10.6" text-anchor="middle" font-weight="normal" fill="#000" stroke="#000" stroke-width="0.4" >2</text>
<text transform="translate(487.43,507.6) scale(1.06,1)" font-size="10.6" text-anchor="middle" font-weight="normal" fill="#000" stroke="#000" stroke-width="0.4" >3</text>
<text transform="translate(507.7,507.6) scale(1.06,1)" font-size="10.6" text-anchor="middle" font-weight="normal" fill="#000" stroke="#000" stroke-width="0.4" >4</text>
<text transform="translate(527.98,507.6) scale(1.06,1)" font-size="10.6" text-anchor="middle" font-weight="normal" fill="#000" stroke="#000" stroke-width="0.4" >5</text>
<text transform="translate(548.25,507.6) scale(1.06,1)" font-size="10.6" text-anchor="middle" font-weight="normal" fill="#000" stroke="#000" stroke-width="0.4" >6</text>
<text transform="translate(568.52,507.6) scale(1.06,1)" font-size="10.6" text-anchor="middle" font-weight="normal" fill="#000" stroke="#000" stroke-width="0.4" >7</text>
<text transform="translate(588.8,507.6) scale(1.06,1)" font-size="10.6" text-anchor="middle" font-weight="normal" fill="#000" stroke="#000" stroke-width="0.4" >8</text>
<text transform="translate(609.08,507.6) scale(1.06,1)" font-size="10.6" text-anchor="middle" font-weight="normal" fill="#000" stroke="#000" stroke-width="0.4" >9</text>
<text transform="translate(629.35,507.6) scale(1.06,1)" font-size="10.6" text-anchor="middle" font-weight="normal" fill="#000" stroke="#000" stroke-width="0.4" >10</text>
<text transform="translate(649.62,507.6) scale(1.06,1)" font-size="10.6" text-anchor="middle" font-weight="normal" fill="#000" stroke="#000" stroke-width="0.4" >11</text>
<text transform="translate(669.9,507.6) scale(1.06,1)" font-size="10.6" text-anchor="middle" font-weight="normal" fill="#000" stroke="#000" stroke-width="0.4" >12</text>
<text transform="translate(690.17,507.6) scale(1.06,1)" font-size="10.6" text-anchor="middle" font-weight="normal" fill="#000" stroke="#000" stroke-width="0.4" >13</text>
<text transform="translate(710.45,507.6) scale(1.06,1)" font-size="10.6" text-anchor="middle" font-weight="normal" fill="#000" stroke="#000" stroke-width="0.4" >14</text>
<text transform="translate(730.73,507.6) scale(1.06,1)" font-size="10.6" text-anchor="middle" font-weight="normal" fill="#000" stroke="#000" stroke-width="0.4" >15</text>
<text transform="translate(751,507.6) scale(1.06,1)" font-size="10.6" text-anchor="middle" font-weight="normal" fill="#000" stroke="#000" stroke-width="0.4" >16</text>
<text transform="translate(199.5,248.6) scale(1.0,1)" font-size="11.4" text-anchor="middle" font-weight="normal" fill="#000" stroke="#000" stroke-width="0.4" >Age (years)</text>
<text transform="translate(588,248.6) scale(1.0,1)" font-size="11.4" text-anchor="middle" font-weight="normal" fill="#000" stroke="#000" stroke-width="0.4" >Age (years)</text>
<text transform="translate(199.5,520.4) scale(1.0,1)" font-size="11.4" text-anchor="middle" font-weight="normal" fill="#000" stroke="#000" stroke-width="0.4" >Age (years)</text>
<text transform="translate(588,520.4) scale(1.0,1)" font-size="11.4" text-anchor="middle" font-weight="normal" fill="#000" stroke="#000" stroke-width="0.4" >Age (years)</text>
<text transform="translate(8.8,113) rotate(-90)" font-size="11.4" text-anchor="middle" fill="#000" stroke="#000" stroke-width="0.4">AP-IPA (&#176;)</text>
<text transform="translate(394.9,113) rotate(-90)" font-size="11.3" text-anchor="middle" fill="#000" stroke="#000" stroke-width="0.4">L-IPA (&#176;)</text>
<text transform="translate(8.8,384.5) rotate(-90)" font-size="11.3" text-anchor="middle" fill="#000" stroke="#000" stroke-width="0.4">LLD %</text>
<text transform="translate(396,384.8) rotate(-90)" font-size="11.3" text-anchor="middle" fill="#000" stroke="#000" stroke-width="0.4">LLD cm</text>
<circle cx="362.1" cy="10.6" r="9.4" fill="#c6c6c6" stroke="#000" stroke-width="1.1"/>
<text transform="translate(362.1,15.5) scale(1.0,1)" font-size="17.5" text-anchor="middle" font-weight="normal" fill="#000" stroke="#000" stroke-width="0.7" >a</text>
<circle cx="750.2" cy="12.1" r="9.4" fill="#c6c6c6" stroke="#000" stroke-width="1.1"/>
<text transform="translate(750.2,17.5) scale(1.0,1)" font-size="17.5" text-anchor="middle" font-weight="normal" fill="#000" stroke="#000" stroke-width="0.7" >b</text>
<circle cx="362.1" cy="282.8" r="9.4" fill="#c6c6c6" stroke="#000" stroke-width="1.1"/>
<text transform="translate(362.1,287.7) scale(1.0,1)" font-size="17.5" text-anchor="middle" font-weight="normal" fill="#000" stroke="#000" stroke-width="0.7" >c</text>
<circle cx="750.3" cy="282.8" r="9.4" fill="#c6c6c6" stroke="#000" stroke-width="1.1"/>
<text transform="translate(750.3,288.2) scale(1.0,1)" font-size="17.5" text-anchor="middle" font-weight="normal" fill="#000" stroke="#000" stroke-width="0.7" >d</text>
<text x="126.5" y="33.1" font-size="10.4" font-weight="bold" textLength="159.5" lengthAdjust="spacingAndGlyphs" fill="#000" stroke="#000" stroke-width="0.35"><tspan>estimated&#160;AP-IPA&#160;</tspan><tspan font-size="8.53">=23.8-7.2*ln(age)</tspan></text>
<text x="126.5" y="47" font-size="10.4" font-weight="bold" textLength="226" lengthAdjust="spacingAndGlyphs" fill="#000" stroke="#000" stroke-width="0.35"><tspan>estimated&#160;AP-IPA&#160;upper&#160;limit=26.3-5.1*ln(age)</tspan></text>
<text x="126.5" y="60.7" font-size="10.4" font-weight="bold" textLength="227.5" lengthAdjust="spacingAndGlyphs" fill="#000" stroke="#000" stroke-width="0.35"><tspan>estimated&#160;AP-IPA&#160;&#160;lower&#160;limit=21.3-9.3*ln(age)</tspan></text>
<text x="538.9" y="26" font-size="9.2" font-weight="bold" textLength="148.9" lengthAdjust="spacingAndGlyphs" fill="#000" stroke="#000" stroke-width="0.35"><tspan>estimated&#160;L-IPA&#160;=&#160;29.4*exp(-0.2*age)</tspan></text>
<text x="538.9" y="37.8" font-size="9.2" font-weight="bold" textLength="187.1" lengthAdjust="spacingAndGlyphs" fill="#000" stroke="#000" stroke-width="0.35"><tspan>estimated&#160;L-IPA&#160;upper&#160;limit&#160;=&#160;41*exp(-0.2*age)</tspan></text>
<text x="538.9" y="49.9" font-size="9.2" font-weight="bold" textLength="190.3" lengthAdjust="spacingAndGlyphs" fill="#000" stroke="#000" stroke-width="0.35"><tspan>estimated&#160;L-IPA&#160;lower&#160;limit=17.7*exp(-0.2*age)</tspan></text>
<text x="68.5" y="310.3" font-size="9.2" font-weight="bold" textLength="122.6" lengthAdjust="spacingAndGlyphs" fill="#000" stroke="#000" stroke-width="0.35"><tspan>estimated&#160;LLD</tspan><tspan font-size="6.26" dy="2">%</tspan><tspan dy="-2" font-size="1">&#8203;</tspan><tspan>&#160;=16.1-0.3*(age)</tspan></text>
<text x="68.5" y="321.9" font-size="9.2" font-weight="bold" textLength="166.3" lengthAdjust="spacingAndGlyphs" fill="#000" stroke="#000" stroke-width="0.35"><tspan>estimated&#160;LLD</tspan><tspan font-size="6.26" dy="2">%</tspan><tspan dy="-2" font-size="1">&#8203;</tspan><tspan>&#160;upper&#160;limit=17.2-0.2*(age)</tspan></text>
<text x="68.5" y="333.4" font-size="9.2" font-weight="bold" textLength="167.1" lengthAdjust="spacingAndGlyphs" fill="#000" stroke="#000" stroke-width="0.35"><tspan>estimated&#160;LLD</tspan><tspan font-size="6.26" dy="2">%</tspan><tspan dy="-2" font-size="1">&#8203;</tspan><tspan>&#160;&#160;lower&#160;limit=14.9-0.4*(age)</tspan></text>
<text x="428.5" y="305.9" font-size="9.2" font-weight="bold" textLength="129" lengthAdjust="spacingAndGlyphs" fill="#000" stroke="#000" stroke-width="0.35"><tspan>estimated&#160;LLD</tspan><tspan font-size="6.26" dy="2">cm</tspan><tspan dy="-2" font-size="1">&#8203;</tspan><tspan>&#160;=2.2+0.8*ln(age)</tspan></text>
<text x="428.5" y="317.5" font-size="9.2" font-weight="bold" textLength="171.5" lengthAdjust="spacingAndGlyphs" fill="#000" stroke="#000" stroke-width="0.35"><tspan>estimated&#160;LLD</tspan><tspan font-size="6.26" dy="2">cm</tspan><tspan dy="-2" font-size="1">&#8203;</tspan><tspan>&#160;upper&#160;limit=2.5+0.9*ln(age)</tspan></text>
<text x="428.5" y="329.1" font-size="9.2" font-weight="bold" textLength="173.5" lengthAdjust="spacingAndGlyphs" fill="#000" stroke="#000" stroke-width="0.35"><tspan>estimated&#160;LLD</tspan><tspan font-size="6.26" dy="2">cm</tspan><tspan dy="-2" font-size="1">&#8203;</tspan><tspan>&#160;&#160;lower&#160;limit=2.0+0.6*ln(age)</tspan></text>
<path d="M50.9 561H92.1" stroke="#000" stroke-width="3.5" stroke-linecap="round"/>
<path d="M50.9 579.8H92.1" stroke="#707070" stroke-width="3.5" stroke-linecap="round" stroke-dasharray="22.5 14 4.7 100"/>
<path d="M50.9 597.8H92.1" stroke="#000" stroke-width="3.5" stroke-linecap="round" stroke-dasharray="22.5 14 4.7 100"/>
<text transform="translate(100.6,564) scale(1.0,1)" font-size="13" text-anchor="start" font-weight="normal" fill="#000" stroke="#000" stroke-width="0.5" >estimated</text>
<text transform="translate(100.6,582.3) scale(1.0,1)" font-size="13" text-anchor="start" font-weight="normal" fill="#000" stroke="#000" stroke-width="0.5" >lower limit</text>
<text transform="translate(100.6,600.3) scale(1.0,1)" font-size="13" text-anchor="start" font-weight="normal" fill="#000" stroke="#000" stroke-width="0.5" >upper limit</text>
<g transform="translate(54.2,632.2) scale(1.0)"><rect x="-4.6" y="-4.6" width="9.2" height="9.2" fill="#000"/></g>
<text transform="translate(68,635.65) scale(1.0,1)" font-size="13" text-anchor="start" font-weight="normal" fill="#000" stroke="#000" stroke-width="0.5" >case 1</text>
<g transform="translate(54.2,650.2) scale(1.0)"><rect x="-4.6" y="-4.6" width="9.2" height="9.2" fill="#282828"/></g>
<text transform="translate(68,653.65) scale(1.0,1)" font-size="13" text-anchor="start" font-weight="normal" fill="#000" stroke="#000" stroke-width="0.5" >case 2</text>
<g transform="translate(54.2,668.2) scale(1.0)"><rect x="-3.9" y="-3.9" width="7.8" height="7.8" fill="#fff" stroke="#000" stroke-width="1.6"/></g>
<text transform="translate(68,671.65) scale(1.0,1)" font-size="13" text-anchor="start" font-weight="normal" fill="#000" stroke="#000" stroke-width="0.5" >case 3</text>
<g transform="translate(54.2,686.2) scale(1.0)"><rect x="-3.5" y="-3.5" width="7.0" height="7.0" fill="#fff" stroke="#707070" stroke-width="2.6"/></g>
<text transform="translate(68,689.65) scale(1.0,1)" font-size="13" text-anchor="start" font-weight="normal" fill="#000" stroke="#000" stroke-width="0.5" >case 4</text>
<g transform="translate(201.5,559.9) scale(1.0)"><path d="M0 -5.0L5.5 0L0 5.0L-5.5 0Z" fill="#000"/></g>
<text transform="translate(217,563.65) scale(1.0,1)" font-size="13" text-anchor="start" font-weight="normal" fill="#000" stroke="#000" stroke-width="0.5" >case 5</text>
<g transform="translate(201.5,577.9) scale(1.0)"><rect x="-3.8" y="-3.8" width="7.6" height="7.6" fill="#fff" stroke="#000" stroke-width="2.8"/></g>
<text transform="translate(217,581.65) scale(1.0,1)" font-size="13" text-anchor="start" font-weight="normal" fill="#000" stroke="#000" stroke-width="0.5" >case 6</text>
<g transform="translate(201.5,595.9) scale(1.0)"><path d="M0 -5.0L5.5 0L0 5.0L-5.5 0Z" fill="#000"/><circle cx="0" cy="0" r="1.15" fill="#fff"/></g>
<text transform="translate(217,599.65) scale(1.0,1)" font-size="13" text-anchor="start" font-weight="normal" fill="#000" stroke="#000" stroke-width="0.5" >case 7</text>
<g transform="translate(201.5,613.9) scale(1.0)"><path d="M0 -4.3L4.7 0L0 4.3L-4.7 0Z" fill="#7f7f7f" stroke="#000" stroke-width="1.6"/></g>
<text transform="translate(217,617.65) scale(1.0,1)" font-size="13" text-anchor="start" font-weight="normal" fill="#000" stroke="#000" stroke-width="0.5" >case 8</text>
<g transform="translate(201.5,631.9) scale(1.0)"><path d="M0 -4.8L5.4 0L0 4.8L-5.4 0Z" fill="#7f7f7f"/></g>
<text transform="translate(217,635.65) scale(1.0,1)" font-size="13" text-anchor="start" font-weight="normal" fill="#000" stroke="#000" stroke-width="0.5" >case 9</text>
<g transform="translate(201.5,649.9) scale(1.0)"><path d="M0 -4.8L5.3 4.8L-5.3 4.8Z" fill="#000"/></g>
<text transform="translate(217,653.65) scale(1.0,1)" font-size="13" text-anchor="start" font-weight="normal" fill="#000" stroke="#000" stroke-width="0.5" >case 10</text>
<g transform="translate(201.5,667.9) scale(1.0)"><path d="M0 -3.9L4.1 3.9L-4.1 3.9Z" fill="#fff" stroke="#000" stroke-width="1.6"/></g>
<text transform="translate(217,671.65) scale(1.0,1)" font-size="13" text-anchor="start" font-weight="normal" fill="#000" stroke="#000" stroke-width="0.5" >case 11</text>
<g transform="translate(201.5,685.9) scale(1.0)"><path d="M0 -4.8L5.1 4.8L-5.1 4.8Z" fill="#7f7f7f"/></g>
<text transform="translate(217,689.65) scale(1.0,1)" font-size="13" text-anchor="start" font-weight="normal" fill="#000" stroke="#000" stroke-width="0.5" >case 12</text>
<g transform="translate(317,559.9) scale(1.0)"><rect x="-1.9" y="-1.9" width="3.8" height="3.8" rx="0.6" fill="#000" transform="translate(0.3,-3.2) rotate(35)"/><rect x="-1.9" y="-1.9" width="3.8" height="3.8" rx="0.6" fill="#000" transform="translate(-3.0,-0.2) rotate(30)"/><rect x="-1.9" y="-1.9" width="3.8" height="3.8" rx="0.6" fill="#000" transform="translate(-2.4,3.0) rotate(5)"/><rect x="-1.9" y="-1.9" width="3.8" height="3.8" rx="0.6" fill="#000" transform="translate(3.4,2.6) rotate(35)"/></g>
<text transform="translate(332,563.65) scale(1.0,1)" font-size="13" text-anchor="start" font-weight="normal" fill="#000" stroke="#000" stroke-width="0.5" >case 13</text>
<g transform="translate(317,577.9) scale(1.0)"><rect x="-4.9" y="-4.9" width="9.8" height="9.8" fill="#000"/><path d="M-4.5 -4.5L4.5 4.5M-4.5 4.5L4.5 -4.5" stroke="#fff" stroke-width="1.1" stroke-linecap="butt" fill="none"/></g>
<text transform="translate(332,581.65) scale(1.0,1)" font-size="13" text-anchor="start" font-weight="normal" fill="#000" stroke="#000" stroke-width="0.5" >case 14</text>
<g transform="translate(317,595.9) scale(1.0)"><path d="M-4.6 -4.6L4.6 4.6M-4.6 4.6L4.6 -4.6" stroke="#000" stroke-width="1.6" stroke-linecap="butt" fill="none"/></g>
<text transform="translate(332,599.65) scale(1.0,1)" font-size="13" text-anchor="start" font-weight="normal" fill="#000" stroke="#000" stroke-width="0.5" >case 15</text>
<g transform="translate(317,613.9) scale(1.0)"><path d="M-5.1499999999999995 -4.1L3.05 4.1M-5.1499999999999995 4.1L3.05 -4.1" stroke="#000" stroke-width="1.35" stroke-linecap="butt" fill="none"/><path d="M-3.05 -4.1L5.1499999999999995 4.1M-3.05 4.1L5.1499999999999995 -4.1" stroke="#000" stroke-width="1.35" stroke-linecap="butt" fill="none"/></g>
<text transform="translate(332,617.65) scale(1.0,1)" font-size="13" text-anchor="start" font-weight="normal" fill="#000" stroke="#000" stroke-width="0.5" >case 16</text>
<g transform="translate(317,631.9) scale(1.0)"><path d="M-5.1499999999999995 -4.1L3.05 4.1M-5.1499999999999995 4.1L3.05 -4.1" stroke="#b8b8b8" stroke-width="1.35" stroke-linecap="butt" fill="none"/><path d="M-3.05 -4.1L5.1499999999999995 4.1M-3.05 4.1L5.1499999999999995 -4.1" stroke="#b8b8b8" stroke-width="1.35" stroke-linecap="butt" fill="none"/></g>
<text transform="translate(332,635.65) scale(1.0,1)" font-size="13" text-anchor="start" font-weight="normal" fill="#000" stroke="#000" stroke-width="0.5" >case 17</text>
<g transform="translate(317,649.9) scale(1.0)"><path d="M-3.9 -3.9L3.9 3.9M-3.9 3.9L3.9 -3.9" stroke="#000" stroke-width="4.2" stroke-linecap="butt" fill="none"/></g>
<text transform="translate(332,653.65) scale(1.0,1)" font-size="13" text-anchor="start" font-weight="normal" fill="#000" stroke="#000" stroke-width="0.5" >case 18</text>
<g transform="translate(317,667.9) scale(1.0)"><path d="M-4.4 -4.4L4.4 4.4M-4.4 4.4L4.4 -4.4" stroke="#000" stroke-width="1.6" stroke-linecap="butt" fill="none"/><path d="M0 -4.9V4.9" stroke="#000" stroke-width="1.6" stroke-linecap="butt" fill="none"/></g>
<text transform="translate(332,671.65) scale(1.0,1)" font-size="13" text-anchor="start" font-weight="normal" fill="#000" stroke="#000" stroke-width="0.5" >case 19</text>
<g transform="translate(317,685.9) scale(1.0)"><rect x="-4.9" y="-4.9" width="9.8" height="9.8" fill="#000"/><path d="M-4.3 -4.3L4.3 4.3M-4.3 4.3L4.3 -4.3" stroke="#fff" stroke-width="0.8" stroke-linecap="butt" fill="none"/><path d="M0 -4.5V4.5" stroke="#fff" stroke-width="0.7" stroke-linecap="butt" fill="none"/><circle cx="0" cy="0" r="1.0" fill="#fff"/></g>
<text transform="translate(332,689.65) scale(1.0,1)" font-size="13" text-anchor="start" font-weight="normal" fill="#000" stroke="#000" stroke-width="0.5" >case 20</text>
<g transform="translate(434,559.9) scale(1.0)"><path d="M-4 -1.3C-4.4 -6 4.4 -6 4 -1.3Z" fill="#000"/><path d="M-5.3 2.4L-2.6 -0.4H2.6L5.3 2.4L3.9 4.7H-3.9Z" fill="#000"/><path d="M-2.9 -0.9Q0 1.9 2.9 -0.9" stroke="#fff" stroke-width="1.3" fill="none"/><path d="M-2 4.7Q0 2.4 2 4.7Z" fill="#fff"/></g>
<text transform="translate(450,563.65) scale(1.0,1)" font-size="13" text-anchor="start" font-weight="normal" fill="#000" stroke="#000" stroke-width="0.5" >case 21</text>
<g transform="translate(434,577.9) scale(1.0)"><path d="M0 -4.4L4.7 4.4L-4.7 4.4Z" fill="#fff" stroke="#000" stroke-width="1.7"/><path d="M0 -0.9L1.9 2.7H-1.9Z" fill="#fff" stroke="#000" stroke-width="1.25"/></g>
<text transform="translate(450,581.65) scale(1.0,1)" font-size="13" text-anchor="start" font-weight="normal" fill="#000" stroke="#000" stroke-width="0.5" >case 22</text>
<g transform="translate(434,595.9) scale(1.0)"><path d="M-5.1 -4.3L3.5 4.3M-5.1 4.3L3.5 -4.3" stroke="#000" stroke-width="1.4" stroke-linecap="butt" fill="none"/><path d="M-3.5 -4.3L5.1 4.3M-3.5 4.3L5.1 -4.3" stroke="#000" stroke-width="1.4" stroke-linecap="butt" fill="none"/><path d="M-5.4 0H5.4M0 -5.4V5.4" stroke="#000" stroke-width="1.8" stroke-linecap="butt" fill="none"/></g>
<text transform="translate(450,599.65) scale(1.0,1)" font-size="13" text-anchor="start" font-weight="normal" fill="#000" stroke="#000" stroke-width="0.5" >case 23</text>
<g transform="translate(434,613.9) scale(1.0)"><rect x="-3.8" y="-2.2" width="7.6" height="4.4" rx="1.8" fill="#000"/></g>
<text transform="translate(450,617.65) scale(1.0,1)" font-size="13" text-anchor="start" font-weight="normal" fill="#000" stroke="#000" stroke-width="0.5" >case 24</text>
<g transform="translate(434,631.9) scale(1.0)"><rect x="-5.2" y="-2.6" width="10.4" height="5.2" rx="1.4" fill="#000"/><path d="M-2.7 0H2.7" stroke="#fff" stroke-width="1" stroke-linecap="butt" fill="none"/></g>
<text transform="translate(450,635.65) scale(1.0,1)" font-size="13" text-anchor="start" font-weight="normal" fill="#000" stroke="#000" stroke-width="0.5" >case 25</text>
<g transform="translate(434,649.9) scale(1.0)"><rect x="-5.3" y="-3.4" width="10.6" height="6.8" rx="2.2" fill="#000"/></g>
<text transform="translate(450,653.65) scale(1.0,1)" font-size="13" text-anchor="start" font-weight="normal" fill="#000" stroke="#000" stroke-width="0.5" >case 26</text>
<g transform="translate(434,667.9) scale(1.0)"><rect x="-4.7" y="-2.9" width="9.4" height="5.8" rx="1.8" fill="#999"/></g>
<text transform="translate(450,671.65) scale(1.0,1)" font-size="13" text-anchor="start" font-weight="normal" fill="#000" stroke="#000" stroke-width="0.5" >case 27</text>
<g transform="translate(434,685.9) scale(1.0)"><rect x="-4.3" y="-2.5" width="8.6" height="5.0" rx="1.6" fill="#fff" stroke="#000" stroke-width="1.9"/><path d="M-2.6 0H2.6M0 -1.2V1.2" stroke="#000" stroke-width="1.1" stroke-linecap="butt" fill="none"/></g>
<text transform="translate(450,689.65) scale(1.0,1)" font-size="13" text-anchor="start" font-weight="normal" fill="#000" stroke="#000" stroke-width="0.5" >case 28</text>
<g transform="translate(549,559.9) scale(1.0)"><rect x="-4.7" y="-1.3" width="9.4" height="2.6" rx="0.7" fill="#000"/></g>
<text transform="translate(565,563.65) scale(1.0,1)" font-size="13" text-anchor="start" font-weight="normal" fill="#000" stroke="#000" stroke-width="0.5" >case 29</text>
<g transform="translate(549,577.9) scale(1.0)"><rect x="-5.2" y="-1.8" width="10.4" height="3.6" rx="1.8" fill="#fff" stroke="#b8b8b8" stroke-width="1.1"/><path d="M-3.8 0H3.8" stroke="#444" stroke-width="0.9" stroke-linecap="butt" fill="none"/><path d="M-4 0H-2.4M2.4 0H4" stroke="#000" stroke-width="1.7" stroke-linecap="butt" fill="none"/></g>
<text transform="translate(565,581.65) scale(1.0,1)" font-size="13" text-anchor="start" font-weight="normal" fill="#000" stroke="#000" stroke-width="0.5" >case 30</text>
<g transform="translate(549,595.9) scale(1.0)"><rect x="-4.9" y="-2.1" width="9.8" height="4.2" rx="2.1" fill="#4a4a4a" stroke="#000" stroke-width="1.9"/></g>
<text transform="translate(565,599.65) scale(1.0,1)" font-size="13" text-anchor="start" font-weight="normal" fill="#000" stroke="#000" stroke-width="0.5" >case 31</text>
<g transform="translate(549,613.9) scale(1.0)"><rect x="-4.9" y="-0.95" width="9.8" height="1.9" rx="0.5" fill="#000"/></g>
<text transform="translate(565,617.65) scale(1.0,1)" font-size="13" text-anchor="start" font-weight="normal" fill="#000" stroke="#000" stroke-width="0.5" >case 32</text>
<g transform="translate(549,631.9) scale(1.0)"><rect x="-4.5" y="-4.5" width="9.0" height="9.0" fill="#fff" stroke="#000" stroke-width="1.3"/><rect x="-2.1" y="-2.1" width="4.2" height="4.2" fill="#fff" stroke="#000" stroke-width="1.3"/></g>
<text transform="translate(565,635.65) scale(1.0,1)" font-size="13" text-anchor="start" font-weight="normal" fill="#000" stroke="#000" stroke-width="0.5" >case 33</text>
<g transform="translate(549,649.9) scale(1.0)"><path d="M0 -4.9L5.3 0L0 4.9L-5.3 0Z" fill="#fff" stroke="#000" stroke-width="1.3"/><path d="M0 -2.3L2.5 0L0 2.3L-2.5 0Z" fill="#fff" stroke="#000" stroke-width="1.3"/></g>
<text transform="translate(565,653.65) scale(1.0,1)" font-size="13" text-anchor="start" font-weight="normal" fill="#000" stroke="#000" stroke-width="0.5" >case 34</text>
<g transform="translate(549,667.9) scale(1.0)"><circle cx="0" cy="0" r="4.3" fill="#000"/></g>
<text transform="translate(565,671.65) scale(1.0,1)" font-size="13" text-anchor="start" font-weight="normal" fill="#000" stroke="#000" stroke-width="0.5" >case 35</text>
<g transform="translate(549,685.9) scale(1.0)"><circle cx="0" cy="0" r="3.3" fill="#fff" stroke="#999" stroke-width="2.3"/></g>
<text transform="translate(565,689.65) scale(1.0,1)" font-size="13" text-anchor="start" font-weight="normal" fill="#000" stroke="#000" stroke-width="0.5" >case 36</text>
<g transform="translate(667.5,559.9) scale(1.0)"><circle cx="0" cy="0" r="4.4" fill="#fff" stroke="#000" stroke-width="1.6"/></g>
<text transform="translate(682,563.65) scale(1.0,1)" font-size="13" text-anchor="start" font-weight="normal" fill="#000" stroke="#000" stroke-width="0.5" >case 37</text>
<g transform="translate(667.5,577.9) scale(1.0)"><circle cx="0" cy="0" r="4.5" fill="#fff" stroke="#000" stroke-width="1.3"/><circle cx="0" cy="0" r="2.2" fill="#fff" stroke="#000" stroke-width="1.3"/></g>
<text transform="translate(682,581.65) scale(1.0,1)" font-size="13" text-anchor="start" font-weight="normal" fill="#000" stroke="#000" stroke-width="0.5" >case 38</text>
<g transform="translate(667.5,595.9) scale(1.0)"><rect x="-4.8" y="-4.8" width="9.6" height="9.6" fill="#858585"/><path d="M-0.9 -4.8V4.8M0.9 -4.8V4.8M-4.8 -0.9H4.8M-4.8 0.9H4.8" stroke="#1a1a1a" stroke-width="1" stroke-linecap="butt" fill="none"/></g>
<text transform="translate(682,599.65) scale(1.0,1)" font-size="13" text-anchor="start" font-weight="normal" fill="#000" stroke="#000" stroke-width="0.5" >case 39</text>
<g transform="translate(667.5,613.9) scale(1.0)"><rect x="-4.6" y="-4.6" width="9.2" height="9.2" fill="#000"/><path d="M0 -4.6V4.6M-4.6 0H4.6" stroke="#fff" stroke-width="1" stroke-linecap="butt" fill="none"/></g>
<text transform="translate(682,617.65) scale(1.0,1)" font-size="13" text-anchor="start" font-weight="normal" fill="#000" stroke="#000" stroke-width="0.5" >case 40</text>
<g transform="translate(667.5,631.9) scale(1.0)"><path d="M-2.4 -5.2H2.4V-2.4H5.1V2.4H2.4V5.2H-2.4V2.4H-5.1V-2.4H-2.4Z" fill="#000"/></g>
<text transform="translate(682,635.65) scale(1.0,1)" font-size="13" text-anchor="start" font-weight="normal" fill="#000" stroke="#000" stroke-width="0.5" >case 41</text>
<g transform="translate(667.5,649.9) scale(1.0)"><path d="M-4.0 -4.0L4.0 4.0M-4.0 4.0L4.0 -4.0" stroke="#999" stroke-width="3" stroke-linecap="butt" fill="none"/></g>
<text transform="translate(682,653.65) scale(1.0,1)" font-size="13" text-anchor="start" font-weight="normal" fill="#000" stroke="#000" stroke-width="0.5" >case 42</text>
<g transform="translate(667.5,667.9) scale(1.0)"><path d="M-4.8 0H4.8M0 -4.8V4.8" stroke="#000" stroke-width="1.8" stroke-linecap="butt" fill="none"/></g>
<text transform="translate(682,671.65) scale(1.0,1)" font-size="13" text-anchor="start" font-weight="normal" fill="#000" stroke="#000" stroke-width="0.5" >case 43</text>
<g transform="translate(667.5,685.9) scale(1.0)"><path d="M-1.5 -4.5V4.5M1.5 -4.5V4.5M-4.6 -1.5H4.6M-4.6 1.5H4.6" stroke="#000" stroke-width="1.7" stroke-linecap="butt" fill="none"/></g>
<text transform="translate(682,689.65) scale(1.0,1)" font-size="13" text-anchor="start" font-weight="normal" fill="#000" stroke="#000" stroke-width="0.5" >case 44</text>
</svg>
</body></html>
